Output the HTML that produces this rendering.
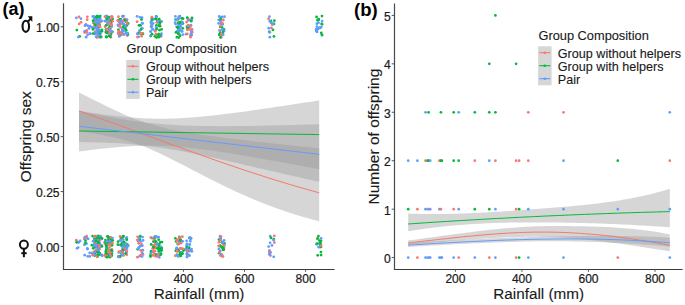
<!DOCTYPE html>
<html><head><meta charset="utf-8"><title>Figure</title>
<style>html,body{margin:0;padding:0;background:#fff;overflow:hidden}svg{display:block}text{font-family:"Liberation Sans",sans-serif}.t{stroke:#1a1a1a;stroke-width:0.22px}.u{stroke:#1a1a1a;stroke-width:0.12px}</style>
</head><body>
<svg width="685" height="305" viewBox="0 0 685 305">
<rect width="685" height="305" fill="#fff"/>
<polygon points="79.00,92.55 83.00,94.52 87.01,96.51 91.01,98.50 95.01,100.50 99.02,102.49 103.02,104.47 107.02,106.43 111.03,108.37 115.03,110.27 119.03,112.12 123.04,113.92 127.04,115.66 131.04,117.32 135.05,118.91 139.05,120.41 143.05,121.82 147.06,123.14 151.06,124.37 155.06,125.52 159.07,126.59 163.07,127.59 167.07,128.52 171.08,129.39 175.08,130.21 179.08,130.98 183.09,131.71 187.09,132.41 191.09,133.08 195.10,133.71 199.10,134.32 203.10,134.92 207.11,135.49 211.11,136.04 215.11,136.59 219.12,137.11 223.12,137.63 227.12,138.14 231.13,138.63 235.13,139.12 239.13,139.60 243.14,140.07 247.14,140.54 251.14,141.00 255.15,141.46 259.15,141.91 263.15,142.35 267.16,142.80 271.16,143.24 275.16,143.67 279.17,144.10 283.17,144.53 287.17,144.96 291.18,145.38 295.18,145.80 299.18,146.22 303.19,146.64 307.19,147.05 311.19,147.46 315.20,147.88 319.20,148.28 319.20,221.32 315.20,220.28 311.19,219.20 307.19,218.08 303.19,216.93 299.18,215.74 295.18,214.50 291.18,213.23 287.17,211.92 283.17,210.57 279.17,209.18 275.16,207.74 271.16,206.27 267.16,204.75 263.15,203.20 259.15,201.60 255.15,199.96 251.14,198.28 247.14,196.56 243.14,194.81 239.13,193.01 235.13,191.18 231.13,189.32 227.12,187.42 223.12,185.49 219.12,183.52 215.11,181.54 211.11,179.52 207.11,177.49 203.10,175.43 199.10,173.36 195.10,171.28 191.09,169.20 187.09,167.12 183.09,165.04 179.08,162.97 175.08,160.92 171.08,158.90 167.07,156.92 163.07,154.98 159.07,153.10 155.06,151.28 151.06,149.53 147.06,147.86 143.05,146.28 139.05,144.79 135.05,143.40 131.04,142.10 127.04,140.88 123.04,139.76 119.03,138.71 115.03,137.73 111.03,136.82 107.02,135.96 103.02,135.16 99.02,134.40 95.01,133.69 91.01,133.00 87.01,132.35 83.00,131.72 79.00,131.12" fill="#999999" fill-opacity="0.4"/><polygon points="79.00,110.89 83.00,111.51 87.01,112.12 91.01,112.72 95.01,113.30 99.02,113.86 103.02,114.40 107.02,114.93 111.03,115.42 115.03,115.90 119.03,116.34 123.04,116.76 127.04,117.14 131.04,117.48 135.05,117.79 139.05,118.06 143.05,118.29 147.06,118.47 151.06,118.61 155.06,118.70 159.07,118.74 163.07,118.74 167.07,118.69 171.08,118.60 175.08,118.46 179.08,118.29 183.09,118.07 187.09,117.82 191.09,117.53 195.10,117.22 199.10,116.87 203.10,116.49 207.11,116.09 211.11,115.67 215.11,115.23 219.12,114.77 223.12,114.29 227.12,113.79 231.13,113.28 235.13,112.76 239.13,112.23 243.14,111.69 247.14,111.14 251.14,110.58 255.15,110.01 259.15,109.44 263.15,108.86 267.16,108.27 271.16,107.68 275.16,107.09 279.17,106.49 283.17,105.90 287.17,105.29 291.18,104.69 295.18,104.08 299.18,103.48 303.19,102.87 307.19,102.26 311.19,101.65 315.20,101.04 319.20,100.43 319.20,169.17 315.20,168.44 311.19,167.70 307.19,166.97 303.19,166.23 299.18,165.50 295.18,164.76 291.18,164.03 287.17,163.30 283.17,162.57 279.17,161.84 275.16,161.12 271.16,160.39 267.16,159.68 263.15,158.96 259.15,158.25 255.15,157.55 251.14,156.86 247.14,156.17 243.14,155.48 239.13,154.81 235.13,154.15 231.13,153.50 227.12,152.86 223.12,152.24 219.12,151.63 215.11,151.04 211.11,150.47 207.11,149.92 203.10,149.39 199.10,148.89 195.10,148.42 191.09,147.98 187.09,147.56 183.09,147.19 179.08,146.85 175.08,146.55 171.08,146.29 167.07,146.08 163.07,145.91 159.07,145.79 155.06,145.72 151.06,145.69 147.06,145.71 143.05,145.78 139.05,145.89 135.05,146.04 131.04,146.24 127.04,146.48 123.04,146.75 119.03,147.05 115.03,147.39 111.03,147.76 107.02,148.15 103.02,148.57 99.02,149.01 95.01,149.48 91.01,149.96 87.01,150.46 83.00,150.97 79.00,151.50" fill="#999999" fill-opacity="0.4"/><polygon points="79.00,110.99 83.00,111.84 87.01,112.67 91.01,113.50 95.01,114.30 99.02,115.10 103.02,115.87 107.02,116.62 111.03,117.36 115.03,118.07 119.03,118.75 123.04,119.40 127.04,120.03 131.04,120.63 135.05,121.19 139.05,121.72 143.05,122.22 147.06,122.68 151.06,123.11 155.06,123.51 159.07,123.87 163.07,124.20 167.07,124.49 171.08,124.76 175.08,125.00 179.08,125.21 183.09,125.39 187.09,125.55 191.09,125.69 195.10,125.80 199.10,125.90 203.10,125.97 207.11,126.03 211.11,126.08 215.11,126.11 219.12,126.13 223.12,126.13 227.12,126.13 231.13,126.11 235.13,126.09 239.13,126.05 243.14,126.01 247.14,125.96 251.14,125.91 255.15,125.84 259.15,125.78 263.15,125.70 267.16,125.62 271.16,125.54 275.16,125.45 279.17,125.36 283.17,125.26 287.17,125.16 291.18,125.06 295.18,124.96 299.18,124.85 303.19,124.74 307.19,124.62 311.19,124.51 315.20,124.39 319.20,124.27 319.20,181.85 315.20,180.96 311.19,180.07 307.19,179.18 303.19,178.28 299.18,177.37 295.18,176.46 291.18,175.55 287.17,174.64 283.17,173.72 279.17,172.80 275.16,171.87 271.16,170.95 267.16,170.02 263.15,169.09 259.15,168.17 255.15,167.24 251.14,166.31 247.14,165.39 243.14,164.46 239.13,163.54 235.13,162.62 231.13,161.71 227.12,160.80 223.12,159.90 219.12,159.01 215.11,158.12 211.11,157.25 207.11,156.38 203.10,155.53 199.10,154.70 195.10,153.88 191.09,153.07 187.09,152.29 183.09,151.52 179.08,150.78 175.08,150.07 171.08,149.38 167.07,148.71 163.07,148.08 159.07,147.48 155.06,146.91 151.06,146.38 147.06,145.88 143.05,145.42 139.05,144.99 135.05,144.59 131.04,144.23 127.04,143.90 123.04,143.60 119.03,143.34 115.03,143.10 111.03,142.89 107.02,142.71 103.02,142.55 99.02,142.42 95.01,142.30 91.01,142.21 87.01,142.13 83.00,142.07 79.00,142.03" fill="#999999" fill-opacity="0.4"/><polyline points="79.00,111.00 83.00,112.39 87.01,113.79 91.01,115.20 95.01,116.62 99.02,118.04 103.02,119.47 107.02,120.91 111.03,122.35 115.03,123.79 119.03,125.25 123.04,126.70 127.04,128.16 131.04,129.62 135.05,131.08 139.05,132.55 143.05,134.02 147.06,135.49 151.06,136.95 155.06,138.42 159.07,139.89 163.07,141.36 167.07,142.82 171.08,144.28 175.08,145.74 179.08,147.20 183.09,148.65 187.09,150.10 191.09,151.55 195.10,152.99 199.10,154.42 203.10,155.85 207.11,157.27 211.11,158.68 215.11,160.09 219.12,161.48 223.12,162.87 227.12,164.25 231.13,165.63 235.13,166.99 239.13,168.34 243.14,169.68 247.14,171.01 251.14,172.33 255.15,173.64 259.15,174.93 263.15,176.22 267.16,177.49 271.16,178.75 275.16,180.00 279.17,181.23 283.17,182.45 287.17,183.66 291.18,184.85 295.18,186.03 299.18,187.19 303.19,188.34 307.19,189.48 311.19,190.60 315.20,191.71 319.20,192.80" fill="none" stroke="#F8766D" stroke-width="1.0"/><polyline points="79.00,131.00 83.00,131.06 87.01,131.12 91.01,131.18 95.01,131.24 99.02,131.30 103.02,131.36 107.02,131.42 111.03,131.48 115.03,131.54 119.03,131.60 123.04,131.66 127.04,131.72 131.04,131.78 135.05,131.84 139.05,131.90 143.05,131.96 147.06,132.02 151.06,132.08 155.06,132.14 159.07,132.20 163.07,132.26 167.07,132.32 171.08,132.38 175.08,132.44 179.08,132.50 183.09,132.56 187.09,132.62 191.09,132.68 195.10,132.74 199.10,132.80 203.10,132.86 207.11,132.92 211.11,132.98 215.11,133.04 219.12,133.10 223.12,133.16 227.12,133.22 231.13,133.28 235.13,133.34 239.13,133.40 243.14,133.46 247.14,133.52 251.14,133.58 255.15,133.64 259.15,133.70 263.15,133.76 267.16,133.82 271.16,133.88 275.16,133.94 279.17,134.00 283.17,134.06 287.17,134.12 291.18,134.18 295.18,134.24 299.18,134.30 303.19,134.36 307.19,134.42 311.19,134.48 315.20,134.54 319.20,134.60" fill="none" stroke="#00BA38" stroke-width="1.0"/><polyline points="79.00,126.30 83.00,126.77 87.01,127.23 91.01,127.70 95.01,128.17 99.02,128.63 103.02,129.10 107.02,129.57 111.03,130.04 115.03,130.50 119.03,130.97 123.04,131.44 127.04,131.91 131.04,132.38 135.05,132.85 139.05,133.32 143.05,133.79 147.06,134.26 151.06,134.72 155.06,135.19 159.07,135.66 163.07,136.13 167.07,136.60 171.08,137.07 175.08,137.54 179.08,138.01 183.09,138.48 187.09,138.95 191.09,139.42 195.10,139.89 199.10,140.36 203.10,140.83 207.11,141.30 211.11,141.77 215.11,142.24 219.12,142.70 223.12,143.17 227.12,143.64 231.13,144.11 235.13,144.58 239.13,145.04 243.14,145.51 247.14,145.98 251.14,146.44 255.15,146.91 259.15,147.37 263.15,147.84 267.16,148.30 271.16,148.77 275.16,149.23 279.17,149.69 283.17,150.16 287.17,150.62 291.18,151.08 295.18,151.54 299.18,152.00 303.19,152.46 307.19,152.92 311.19,153.38 315.20,153.84 319.20,154.30" fill="none" stroke="#619CFF" stroke-width="1.0"/>
<circle cx="123.24" cy="236.04" r="1.38" fill="#00BA38"/><circle cx="106.84" cy="246.55" r="1.38" fill="#619CFF"/><circle cx="159.14" cy="25.37" r="1.38" fill="#00BA38"/><circle cx="110.32" cy="242.35" r="1.38" fill="#00BA38"/><circle cx="122.62" cy="242.19" r="1.38" fill="#619CFF"/><circle cx="190.96" cy="25.19" r="1.38" fill="#619CFF"/><circle cx="97.52" cy="26.86" r="1.38" fill="#00BA38"/><circle cx="111.69" cy="238.64" r="1.38" fill="#00BA38"/><circle cx="95.73" cy="247.07" r="1.38" fill="#619CFF"/><circle cx="78.52" cy="242.49" r="1.38" fill="#619CFF"/><circle cx="182.29" cy="253.60" r="1.38" fill="#00BA38"/><circle cx="142.31" cy="28.35" r="1.38" fill="#619CFF"/><circle cx="96.37" cy="250.05" r="1.38" fill="#619CFF"/><circle cx="180.47" cy="255.91" r="1.38" fill="#00BA38"/><circle cx="140.51" cy="241.35" r="1.38" fill="#619CFF"/><circle cx="107.29" cy="248.45" r="1.38" fill="#00BA38"/><circle cx="180.87" cy="255.75" r="1.38" fill="#00BA38"/><circle cx="106.45" cy="256.29" r="1.38" fill="#F8766D"/><circle cx="110.73" cy="37.26" r="1.38" fill="#F8766D"/><circle cx="111.94" cy="249.30" r="1.38" fill="#F8766D"/><circle cx="320.98" cy="246.96" r="1.38" fill="#00BA38"/><circle cx="319.34" cy="247.02" r="1.38" fill="#619CFF"/><circle cx="140.75" cy="250.34" r="1.38" fill="#F8766D"/><circle cx="105.45" cy="240.11" r="1.38" fill="#00BA38"/><circle cx="125.17" cy="247.05" r="1.38" fill="#00BA38"/><circle cx="176.50" cy="248.84" r="1.38" fill="#00BA38"/><circle cx="127.07" cy="19.63" r="1.38" fill="#619CFF"/><circle cx="179.78" cy="240.96" r="1.38" fill="#00BA38"/><circle cx="139.37" cy="30.79" r="1.38" fill="#619CFF"/><circle cx="178.87" cy="34.38" r="1.38" fill="#F8766D"/><circle cx="108.20" cy="249.78" r="1.38" fill="#F8766D"/><circle cx="220.88" cy="23.64" r="1.38" fill="#619CFF"/><circle cx="188.18" cy="26.12" r="1.38" fill="#F8766D"/><circle cx="112.54" cy="19.07" r="1.38" fill="#00BA38"/><circle cx="93.88" cy="27.97" r="1.38" fill="#619CFF"/><circle cx="138.25" cy="239.85" r="1.38" fill="#619CFF"/><circle cx="175.42" cy="238.36" r="1.38" fill="#00BA38"/><circle cx="89.00" cy="28.38" r="1.38" fill="#619CFF"/><circle cx="123.17" cy="33.96" r="1.38" fill="#619CFF"/><circle cx="96.94" cy="236.76" r="1.38" fill="#619CFF"/><circle cx="119.24" cy="244.85" r="1.38" fill="#619CFF"/><circle cx="176.93" cy="37.13" r="1.38" fill="#00BA38"/><circle cx="156.44" cy="25.35" r="1.38" fill="#00BA38"/><circle cx="94.74" cy="17.86" r="1.38" fill="#00BA38"/><circle cx="124.40" cy="19.30" r="1.38" fill="#619CFF"/><circle cx="155.33" cy="236.35" r="1.38" fill="#00BA38"/><circle cx="107.10" cy="19.23" r="1.38" fill="#F8766D"/><circle cx="94.66" cy="255.55" r="1.38" fill="#00BA38"/><circle cx="154.03" cy="248.15" r="1.38" fill="#F8766D"/><circle cx="156.97" cy="237.14" r="1.38" fill="#619CFF"/><circle cx="126.70" cy="237.52" r="1.38" fill="#619CFF"/><circle cx="220.10" cy="236.20" r="1.38" fill="#F8766D"/><circle cx="95.57" cy="31.64" r="1.38" fill="#619CFF"/><circle cx="268.58" cy="18.90" r="1.38" fill="#F8766D"/><circle cx="176.85" cy="248.72" r="1.38" fill="#619CFF"/><circle cx="159.25" cy="257.26" r="1.38" fill="#619CFF"/><circle cx="122.38" cy="23.49" r="1.38" fill="#00BA38"/><circle cx="159.30" cy="34.14" r="1.38" fill="#F8766D"/><circle cx="106.22" cy="249.45" r="1.38" fill="#00BA38"/><circle cx="187.26" cy="256.44" r="1.38" fill="#619CFF"/><circle cx="86.50" cy="243.57" r="1.38" fill="#619CFF"/><circle cx="105.21" cy="244.24" r="1.38" fill="#F8766D"/><circle cx="98.50" cy="20.83" r="1.38" fill="#619CFF"/><circle cx="190.47" cy="35.55" r="1.38" fill="#619CFF"/><circle cx="87.50" cy="249.04" r="1.38" fill="#619CFF"/><circle cx="188.30" cy="254.82" r="1.38" fill="#00BA38"/><circle cx="125.14" cy="28.14" r="1.38" fill="#619CFF"/><circle cx="155.67" cy="256.31" r="1.38" fill="#F8766D"/><circle cx="122.36" cy="34.16" r="1.38" fill="#619CFF"/><circle cx="159.82" cy="23.87" r="1.38" fill="#00BA38"/><circle cx="120.09" cy="240.28" r="1.38" fill="#619CFF"/><circle cx="218.89" cy="248.96" r="1.38" fill="#619CFF"/><circle cx="156.95" cy="242.98" r="1.38" fill="#619CFF"/><circle cx="98.44" cy="31.85" r="1.38" fill="#619CFF"/><circle cx="104.67" cy="242.77" r="1.38" fill="#F8766D"/><circle cx="178.89" cy="18.49" r="1.38" fill="#619CFF"/><circle cx="160.98" cy="36.25" r="1.38" fill="#F8766D"/><circle cx="180.03" cy="238.46" r="1.38" fill="#F8766D"/><circle cx="120.88" cy="19.48" r="1.38" fill="#00BA38"/><circle cx="124.23" cy="242.16" r="1.38" fill="#00BA38"/><circle cx="109.28" cy="29.54" r="1.38" fill="#00BA38"/><circle cx="321.68" cy="23.55" r="1.38" fill="#619CFF"/><circle cx="97.07" cy="239.79" r="1.38" fill="#619CFF"/><circle cx="95.07" cy="251.61" r="1.38" fill="#619CFF"/><circle cx="100.29" cy="236.08" r="1.38" fill="#619CFF"/><circle cx="316.23" cy="30.86" r="1.38" fill="#00BA38"/><circle cx="126.50" cy="248.58" r="1.38" fill="#619CFF"/><circle cx="189.86" cy="237.85" r="1.38" fill="#F8766D"/><circle cx="161.95" cy="242.08" r="1.38" fill="#00BA38"/><circle cx="177.72" cy="244.03" r="1.38" fill="#00BA38"/><circle cx="122.14" cy="245.09" r="1.38" fill="#619CFF"/><circle cx="89.72" cy="256.39" r="1.38" fill="#619CFF"/><circle cx="321.99" cy="16.02" r="1.38" fill="#00BA38"/><circle cx="221.97" cy="27.41" r="1.38" fill="#00BA38"/><circle cx="94.97" cy="242.44" r="1.38" fill="#F8766D"/><circle cx="95.38" cy="238.50" r="1.38" fill="#619CFF"/><circle cx="81.10" cy="22.26" r="1.38" fill="#F8766D"/><circle cx="118.40" cy="29.75" r="1.38" fill="#00BA38"/><circle cx="190.82" cy="250.40" r="1.38" fill="#619CFF"/><circle cx="187.71" cy="18.99" r="1.38" fill="#F8766D"/><circle cx="156.30" cy="16.35" r="1.38" fill="#00BA38"/><circle cx="96.88" cy="26.36" r="1.38" fill="#619CFF"/><circle cx="93.89" cy="21.72" r="1.38" fill="#F8766D"/><circle cx="222.63" cy="24.48" r="1.38" fill="#619CFF"/><circle cx="220.60" cy="255.60" r="1.38" fill="#619CFF"/><circle cx="124.57" cy="25.05" r="1.38" fill="#619CFF"/><circle cx="176.76" cy="27.05" r="1.38" fill="#00BA38"/><circle cx="109.52" cy="253.86" r="1.38" fill="#00BA38"/><circle cx="96.72" cy="21.74" r="1.38" fill="#619CFF"/><circle cx="94.35" cy="238.53" r="1.38" fill="#00BA38"/><circle cx="96.19" cy="241.74" r="1.38" fill="#F8766D"/><circle cx="137.75" cy="249.37" r="1.38" fill="#00BA38"/><circle cx="107.29" cy="254.44" r="1.38" fill="#619CFF"/><circle cx="175.62" cy="24.09" r="1.38" fill="#619CFF"/><circle cx="126.43" cy="238.33" r="1.38" fill="#F8766D"/><circle cx="178.47" cy="24.88" r="1.38" fill="#619CFF"/><circle cx="156.38" cy="37.56" r="1.38" fill="#00BA38"/><circle cx="105.18" cy="26.77" r="1.38" fill="#F8766D"/><circle cx="151.52" cy="237.92" r="1.38" fill="#00BA38"/><circle cx="223.05" cy="249.72" r="1.38" fill="#00BA38"/><circle cx="223.80" cy="29.19" r="1.38" fill="#00BA38"/><circle cx="99.24" cy="25.57" r="1.38" fill="#619CFF"/><circle cx="138.63" cy="36.83" r="1.38" fill="#619CFF"/><circle cx="139.53" cy="246.87" r="1.38" fill="#619CFF"/><circle cx="100.53" cy="33.54" r="1.38" fill="#619CFF"/><circle cx="94.83" cy="243.20" r="1.38" fill="#00BA38"/><circle cx="93.87" cy="23.16" r="1.38" fill="#00BA38"/><circle cx="183.38" cy="250.64" r="1.38" fill="#00BA38"/><circle cx="219.51" cy="34.25" r="1.38" fill="#619CFF"/><circle cx="151.98" cy="20.36" r="1.38" fill="#00BA38"/><circle cx="177.13" cy="240.99" r="1.38" fill="#619CFF"/><circle cx="91.95" cy="245.21" r="1.38" fill="#00BA38"/><circle cx="97.57" cy="35.87" r="1.38" fill="#619CFF"/><circle cx="92.62" cy="236.01" r="1.38" fill="#00BA38"/><circle cx="107.29" cy="21.06" r="1.38" fill="#619CFF"/><circle cx="106.53" cy="245.25" r="1.38" fill="#00BA38"/><circle cx="122.08" cy="254.71" r="1.38" fill="#F8766D"/><circle cx="316.89" cy="26.53" r="1.38" fill="#619CFF"/><circle cx="95.62" cy="25.63" r="1.38" fill="#00BA38"/><circle cx="78.18" cy="247.53" r="1.38" fill="#619CFF"/><circle cx="156.55" cy="255.58" r="1.38" fill="#619CFF"/><circle cx="156.34" cy="27.18" r="1.38" fill="#619CFF"/><circle cx="190.88" cy="34.13" r="1.38" fill="#F8766D"/><circle cx="273.71" cy="256.86" r="1.38" fill="#619CFF"/><circle cx="107.53" cy="240.72" r="1.38" fill="#F8766D"/><circle cx="192.19" cy="32.21" r="1.38" fill="#F8766D"/><circle cx="84.44" cy="244.75" r="1.38" fill="#619CFF"/><circle cx="158.17" cy="248.55" r="1.38" fill="#00BA38"/><circle cx="110.55" cy="237.91" r="1.38" fill="#00BA38"/><circle cx="107.30" cy="241.31" r="1.38" fill="#619CFF"/><circle cx="123.46" cy="255.60" r="1.38" fill="#F8766D"/><circle cx="316.84" cy="23.64" r="1.38" fill="#619CFF"/><circle cx="158.30" cy="245.47" r="1.38" fill="#619CFF"/><circle cx="186.68" cy="245.19" r="1.38" fill="#619CFF"/><circle cx="150.76" cy="253.21" r="1.38" fill="#619CFF"/><circle cx="110.70" cy="20.80" r="1.38" fill="#F8766D"/><circle cx="86.29" cy="31.02" r="1.38" fill="#619CFF"/><circle cx="98.19" cy="27.43" r="1.38" fill="#00BA38"/><circle cx="317.69" cy="29.20" r="1.38" fill="#619CFF"/><circle cx="156.03" cy="34.72" r="1.38" fill="#00BA38"/><circle cx="93.28" cy="248.37" r="1.38" fill="#00BA38"/><circle cx="109.93" cy="25.65" r="1.38" fill="#00BA38"/><circle cx="99.99" cy="31.09" r="1.38" fill="#00BA38"/><circle cx="218.64" cy="23.40" r="1.38" fill="#619CFF"/><circle cx="220.53" cy="20.67" r="1.38" fill="#F8766D"/><circle cx="150.51" cy="31.49" r="1.38" fill="#619CFF"/><circle cx="181.76" cy="31.10" r="1.38" fill="#00BA38"/><circle cx="126.25" cy="252.81" r="1.38" fill="#619CFF"/><circle cx="175.81" cy="250.96" r="1.38" fill="#00BA38"/><circle cx="137.36" cy="34.00" r="1.38" fill="#619CFF"/><circle cx="109.09" cy="35.41" r="1.38" fill="#F8766D"/><circle cx="95.20" cy="17.58" r="1.38" fill="#F8766D"/><circle cx="99.20" cy="20.43" r="1.38" fill="#619CFF"/><circle cx="98.20" cy="25.08" r="1.38" fill="#F8766D"/><circle cx="96.83" cy="19.33" r="1.38" fill="#00BA38"/><circle cx="154.96" cy="36.29" r="1.38" fill="#00BA38"/><circle cx="109.00" cy="29.95" r="1.38" fill="#00BA38"/><circle cx="188.03" cy="28.55" r="1.38" fill="#F8766D"/><circle cx="271.02" cy="21.00" r="1.38" fill="#00BA38"/><circle cx="161.08" cy="253.80" r="1.38" fill="#00BA38"/><circle cx="178.64" cy="23.63" r="1.38" fill="#619CFF"/><circle cx="320.49" cy="246.98" r="1.38" fill="#00BA38"/><circle cx="223.44" cy="244.84" r="1.38" fill="#F8766D"/><circle cx="127.91" cy="23.14" r="1.38" fill="#619CFF"/><circle cx="273.76" cy="239.19" r="1.38" fill="#00BA38"/><circle cx="151.02" cy="22.25" r="1.38" fill="#619CFF"/><circle cx="153.86" cy="238.68" r="1.38" fill="#F8766D"/><circle cx="126.15" cy="30.24" r="1.38" fill="#00BA38"/><circle cx="155.62" cy="242.63" r="1.38" fill="#619CFF"/><circle cx="187.24" cy="17.55" r="1.38" fill="#00BA38"/><circle cx="222.09" cy="16.94" r="1.38" fill="#619CFF"/><circle cx="126.27" cy="252.74" r="1.38" fill="#619CFF"/><circle cx="118.50" cy="25.98" r="1.38" fill="#619CFF"/><circle cx="318.62" cy="19.09" r="1.38" fill="#00BA38"/><circle cx="160.36" cy="242.03" r="1.38" fill="#00BA38"/><circle cx="123.18" cy="21.05" r="1.38" fill="#F8766D"/><circle cx="98.62" cy="31.47" r="1.38" fill="#619CFF"/><circle cx="121.53" cy="22.21" r="1.38" fill="#619CFF"/><circle cx="125.97" cy="32.88" r="1.38" fill="#619CFF"/><circle cx="191.22" cy="32.03" r="1.38" fill="#619CFF"/><circle cx="111.57" cy="16.27" r="1.38" fill="#F8766D"/><circle cx="153.75" cy="19.13" r="1.38" fill="#619CFF"/><circle cx="96.84" cy="20.53" r="1.38" fill="#00BA38"/><circle cx="274.05" cy="23.90" r="1.38" fill="#00BA38"/><circle cx="126.90" cy="237.89" r="1.38" fill="#619CFF"/><circle cx="154.65" cy="237.92" r="1.38" fill="#00BA38"/><circle cx="153.55" cy="245.33" r="1.38" fill="#F8766D"/><circle cx="121.54" cy="245.71" r="1.38" fill="#00BA38"/><circle cx="96.48" cy="237.00" r="1.38" fill="#F8766D"/><circle cx="123.59" cy="245.10" r="1.38" fill="#619CFF"/><circle cx="178.77" cy="37.52" r="1.38" fill="#00BA38"/><circle cx="224.51" cy="16.74" r="1.38" fill="#619CFF"/><circle cx="154.73" cy="236.68" r="1.38" fill="#619CFF"/><circle cx="175.29" cy="255.81" r="1.38" fill="#F8766D"/><circle cx="96.93" cy="37.45" r="1.38" fill="#F8766D"/><circle cx="142.02" cy="256.51" r="1.38" fill="#619CFF"/><circle cx="177.66" cy="249.10" r="1.38" fill="#619CFF"/><circle cx="143.06" cy="240.49" r="1.38" fill="#619CFF"/><circle cx="178.34" cy="256.14" r="1.38" fill="#00BA38"/><circle cx="186.75" cy="249.97" r="1.38" fill="#619CFF"/><circle cx="120.86" cy="237.88" r="1.38" fill="#619CFF"/><circle cx="104.64" cy="255.18" r="1.38" fill="#F8766D"/><circle cx="156.23" cy="29.86" r="1.38" fill="#619CFF"/><circle cx="98.69" cy="21.56" r="1.38" fill="#619CFF"/><circle cx="109.01" cy="19.15" r="1.38" fill="#00BA38"/><circle cx="317.67" cy="237.92" r="1.38" fill="#F8766D"/><circle cx="224.48" cy="243.41" r="1.38" fill="#00BA38"/><circle cx="159.44" cy="30.05" r="1.38" fill="#00BA38"/><circle cx="96.79" cy="249.87" r="1.38" fill="#619CFF"/><circle cx="320.33" cy="245.41" r="1.38" fill="#619CFF"/><circle cx="187.37" cy="250.36" r="1.38" fill="#F8766D"/><circle cx="270.45" cy="255.54" r="1.38" fill="#F8766D"/><circle cx="178.56" cy="31.48" r="1.38" fill="#00BA38"/><circle cx="141.82" cy="28.24" r="1.38" fill="#619CFF"/><circle cx="122.49" cy="250.68" r="1.38" fill="#00BA38"/><circle cx="186.60" cy="250.31" r="1.38" fill="#619CFF"/><circle cx="122.44" cy="251.10" r="1.38" fill="#00BA38"/><circle cx="151.16" cy="251.14" r="1.38" fill="#00BA38"/><circle cx="85.90" cy="24.44" r="1.38" fill="#F8766D"/><circle cx="100.27" cy="16.04" r="1.38" fill="#00BA38"/><circle cx="111.80" cy="253.40" r="1.38" fill="#00BA38"/><circle cx="186.25" cy="34.16" r="1.38" fill="#619CFF"/><circle cx="94.93" cy="22.88" r="1.38" fill="#00BA38"/><circle cx="188.27" cy="25.48" r="1.38" fill="#00BA38"/><circle cx="159.35" cy="244.01" r="1.38" fill="#00BA38"/><circle cx="179.27" cy="238.10" r="1.38" fill="#F8766D"/><circle cx="155.42" cy="243.63" r="1.38" fill="#F8766D"/><circle cx="316.69" cy="244.24" r="1.38" fill="#00BA38"/><circle cx="112.52" cy="31.84" r="1.38" fill="#00BA38"/><circle cx="156.00" cy="34.19" r="1.38" fill="#F8766D"/><circle cx="109.46" cy="254.76" r="1.38" fill="#00BA38"/><circle cx="120.05" cy="256.95" r="1.38" fill="#F8766D"/><circle cx="109.33" cy="21.13" r="1.38" fill="#00BA38"/><circle cx="140.24" cy="245.99" r="1.38" fill="#619CFF"/><circle cx="97.29" cy="32.90" r="1.38" fill="#619CFF"/><circle cx="160.74" cy="254.05" r="1.38" fill="#00BA38"/><circle cx="224.11" cy="247.89" r="1.38" fill="#F8766D"/><circle cx="111.78" cy="19.77" r="1.38" fill="#00BA38"/><circle cx="224.42" cy="245.49" r="1.38" fill="#619CFF"/><circle cx="191.57" cy="249.12" r="1.38" fill="#619CFF"/><circle cx="108.73" cy="19.88" r="1.38" fill="#619CFF"/><circle cx="269.32" cy="251.60" r="1.38" fill="#619CFF"/><circle cx="97.76" cy="36.63" r="1.38" fill="#619CFF"/><circle cx="97.01" cy="23.04" r="1.38" fill="#619CFF"/><circle cx="125.65" cy="21.71" r="1.38" fill="#619CFF"/><circle cx="160.73" cy="251.00" r="1.38" fill="#00BA38"/><circle cx="111.59" cy="24.68" r="1.38" fill="#619CFF"/><circle cx="178.32" cy="250.71" r="1.38" fill="#619CFF"/><circle cx="180.35" cy="25.09" r="1.38" fill="#619CFF"/><circle cx="120.99" cy="251.19" r="1.38" fill="#619CFF"/><circle cx="101.87" cy="238.86" r="1.38" fill="#619CFF"/><circle cx="108.28" cy="18.66" r="1.38" fill="#00BA38"/><circle cx="152.72" cy="251.93" r="1.38" fill="#619CFF"/><circle cx="90.08" cy="26.24" r="1.38" fill="#619CFF"/><circle cx="95.12" cy="241.44" r="1.38" fill="#00BA38"/><circle cx="269.76" cy="21.44" r="1.38" fill="#619CFF"/><circle cx="98.25" cy="249.30" r="1.38" fill="#F8766D"/><circle cx="96.55" cy="255.57" r="1.38" fill="#F8766D"/><circle cx="96.30" cy="26.76" r="1.38" fill="#00BA38"/><circle cx="220.25" cy="33.18" r="1.38" fill="#00BA38"/><circle cx="96.95" cy="33.41" r="1.38" fill="#619CFF"/><circle cx="112.04" cy="245.14" r="1.38" fill="#00BA38"/><circle cx="97.45" cy="256.74" r="1.38" fill="#00BA38"/><circle cx="97.01" cy="251.66" r="1.38" fill="#00BA38"/><circle cx="118.29" cy="33.71" r="1.38" fill="#619CFF"/><circle cx="124.09" cy="27.84" r="1.38" fill="#00BA38"/><circle cx="320.25" cy="243.63" r="1.38" fill="#F8766D"/><circle cx="95.10" cy="32.00" r="1.38" fill="#F8766D"/><circle cx="95.03" cy="32.83" r="1.38" fill="#619CFF"/><circle cx="158.66" cy="251.58" r="1.38" fill="#00BA38"/><circle cx="142.01" cy="17.72" r="1.38" fill="#619CFF"/><circle cx="98.78" cy="252.27" r="1.38" fill="#00BA38"/><circle cx="178.04" cy="19.50" r="1.38" fill="#F8766D"/><circle cx="120.20" cy="256.18" r="1.38" fill="#00BA38"/><circle cx="179.67" cy="29.79" r="1.38" fill="#F8766D"/><circle cx="96.14" cy="36.86" r="1.38" fill="#619CFF"/><circle cx="180.81" cy="26.51" r="1.38" fill="#619CFF"/><circle cx="108.91" cy="251.89" r="1.38" fill="#F8766D"/><circle cx="269.51" cy="254.36" r="1.38" fill="#619CFF"/><circle cx="154.11" cy="250.99" r="1.38" fill="#F8766D"/><circle cx="180.11" cy="30.20" r="1.38" fill="#619CFF"/><circle cx="84.77" cy="32.59" r="1.38" fill="#F8766D"/><circle cx="151.18" cy="26.40" r="1.38" fill="#00BA38"/><circle cx="93.79" cy="246.90" r="1.38" fill="#00BA38"/><circle cx="109.04" cy="33.77" r="1.38" fill="#619CFF"/><circle cx="123.61" cy="16.09" r="1.38" fill="#619CFF"/><circle cx="220.10" cy="245.71" r="1.38" fill="#00BA38"/><circle cx="137.61" cy="236.80" r="1.38" fill="#F8766D"/><circle cx="179.33" cy="25.39" r="1.38" fill="#619CFF"/><circle cx="99.48" cy="24.60" r="1.38" fill="#00BA38"/><circle cx="269.48" cy="31.94" r="1.38" fill="#00BA38"/><circle cx="100.15" cy="26.99" r="1.38" fill="#F8766D"/><circle cx="110.53" cy="21.72" r="1.38" fill="#619CFF"/><circle cx="90.37" cy="33.75" r="1.38" fill="#619CFF"/><circle cx="160.68" cy="36.24" r="1.38" fill="#619CFF"/><circle cx="220.56" cy="246.38" r="1.38" fill="#00BA38"/><circle cx="97.26" cy="244.79" r="1.38" fill="#00BA38"/><circle cx="153.87" cy="251.83" r="1.38" fill="#F8766D"/><circle cx="97.71" cy="16.11" r="1.38" fill="#00BA38"/><circle cx="218.95" cy="242.21" r="1.38" fill="#F8766D"/><circle cx="112.52" cy="21.26" r="1.38" fill="#F8766D"/><circle cx="126.26" cy="21.40" r="1.38" fill="#619CFF"/><circle cx="320.23" cy="242.66" r="1.38" fill="#00BA38"/><circle cx="118.35" cy="256.49" r="1.38" fill="#619CFF"/><circle cx="186.60" cy="22.07" r="1.38" fill="#F8766D"/><circle cx="139.80" cy="239.15" r="1.38" fill="#00BA38"/><circle cx="78.67" cy="242.17" r="1.38" fill="#619CFF"/><circle cx="106.84" cy="31.94" r="1.38" fill="#00BA38"/><circle cx="182.78" cy="249.27" r="1.38" fill="#619CFF"/><circle cx="320.04" cy="27.86" r="1.38" fill="#00BA38"/><circle cx="121.71" cy="32.03" r="1.38" fill="#619CFF"/><circle cx="140.56" cy="25.48" r="1.38" fill="#00BA38"/><circle cx="186.97" cy="243.76" r="1.38" fill="#619CFF"/><circle cx="179.46" cy="16.64" r="1.38" fill="#F8766D"/><circle cx="186.85" cy="253.63" r="1.38" fill="#619CFF"/><circle cx="160.88" cy="35.10" r="1.38" fill="#00BA38"/><circle cx="84.78" cy="31.15" r="1.38" fill="#619CFF"/><circle cx="106.26" cy="16.08" r="1.38" fill="#00BA38"/><circle cx="109.38" cy="247.54" r="1.38" fill="#F8766D"/><circle cx="319.42" cy="240.52" r="1.38" fill="#00BA38"/><circle cx="120.76" cy="34.39" r="1.38" fill="#619CFF"/><circle cx="179.06" cy="255.45" r="1.38" fill="#619CFF"/><circle cx="123.07" cy="16.54" r="1.38" fill="#F8766D"/><circle cx="76.37" cy="17.96" r="1.38" fill="#619CFF"/><circle cx="122.85" cy="254.48" r="1.38" fill="#619CFF"/><circle cx="321.04" cy="240.85" r="1.38" fill="#00BA38"/><circle cx="122.65" cy="247.96" r="1.38" fill="#619CFF"/><circle cx="86.92" cy="32.35" r="1.38" fill="#F8766D"/><circle cx="268.77" cy="28.19" r="1.38" fill="#619CFF"/><circle cx="117.93" cy="24.92" r="1.38" fill="#619CFF"/><circle cx="120.51" cy="27.48" r="1.38" fill="#F8766D"/><circle cx="274.26" cy="235.90" r="1.38" fill="#F8766D"/><circle cx="181.18" cy="242.91" r="1.38" fill="#F8766D"/><circle cx="178.05" cy="240.61" r="1.38" fill="#619CFF"/><circle cx="99.54" cy="17.07" r="1.38" fill="#619CFF"/><circle cx="104.85" cy="242.04" r="1.38" fill="#619CFF"/><circle cx="93.51" cy="21.60" r="1.38" fill="#F8766D"/><circle cx="187.32" cy="254.92" r="1.38" fill="#F8766D"/><circle cx="84.90" cy="25.70" r="1.38" fill="#619CFF"/><circle cx="221.78" cy="254.61" r="1.38" fill="#F8766D"/><circle cx="110.88" cy="22.75" r="1.38" fill="#00BA38"/><circle cx="98.76" cy="23.79" r="1.38" fill="#619CFF"/><circle cx="124.91" cy="249.56" r="1.38" fill="#00BA38"/><circle cx="151.44" cy="26.61" r="1.38" fill="#00BA38"/><circle cx="317.80" cy="19.83" r="1.38" fill="#619CFF"/><circle cx="89.71" cy="33.70" r="1.38" fill="#619CFF"/><circle cx="107.76" cy="236.28" r="1.38" fill="#619CFF"/><circle cx="153.40" cy="241.62" r="1.38" fill="#00BA38"/><circle cx="108.86" cy="254.71" r="1.38" fill="#00BA38"/><circle cx="108.63" cy="239.52" r="1.38" fill="#619CFF"/><circle cx="108.50" cy="28.58" r="1.38" fill="#00BA38"/><circle cx="125.70" cy="30.37" r="1.38" fill="#00BA38"/><circle cx="118.88" cy="256.76" r="1.38" fill="#00BA38"/><circle cx="221.97" cy="242.23" r="1.38" fill="#00BA38"/><circle cx="122.47" cy="31.06" r="1.38" fill="#F8766D"/><circle cx="186.33" cy="248.54" r="1.38" fill="#619CFF"/><circle cx="178.23" cy="244.03" r="1.38" fill="#F8766D"/><circle cx="101.93" cy="29.92" r="1.38" fill="#00BA38"/><circle cx="98.73" cy="241.98" r="1.38" fill="#619CFF"/><circle cx="110.33" cy="35.38" r="1.38" fill="#F8766D"/><circle cx="272.29" cy="24.68" r="1.38" fill="#F8766D"/><circle cx="156.89" cy="248.13" r="1.38" fill="#00BA38"/><circle cx="95.42" cy="251.03" r="1.38" fill="#F8766D"/><circle cx="108.33" cy="255.30" r="1.38" fill="#00BA38"/><circle cx="96.12" cy="246.64" r="1.38" fill="#619CFF"/><circle cx="126.66" cy="254.83" r="1.38" fill="#F8766D"/><circle cx="219.42" cy="34.91" r="1.38" fill="#00BA38"/><circle cx="161.57" cy="29.42" r="1.38" fill="#00BA38"/><circle cx="177.14" cy="251.31" r="1.38" fill="#F8766D"/><circle cx="111.36" cy="256.11" r="1.38" fill="#F8766D"/><circle cx="111.96" cy="32.10" r="1.38" fill="#F8766D"/><circle cx="105.99" cy="253.16" r="1.38" fill="#00BA38"/><circle cx="190.88" cy="238.65" r="1.38" fill="#619CFF"/><circle cx="108.14" cy="254.56" r="1.38" fill="#00BA38"/><circle cx="316.42" cy="243.94" r="1.38" fill="#619CFF"/><circle cx="111.35" cy="245.47" r="1.38" fill="#00BA38"/><circle cx="96.35" cy="246.39" r="1.38" fill="#619CFF"/><circle cx="111.72" cy="255.49" r="1.38" fill="#00BA38"/><circle cx="110.28" cy="237.98" r="1.38" fill="#619CFF"/><circle cx="159.36" cy="246.31" r="1.38" fill="#00BA38"/><circle cx="159.01" cy="255.58" r="1.38" fill="#619CFF"/><circle cx="191.19" cy="35.53" r="1.38" fill="#619CFF"/><circle cx="138.65" cy="247.89" r="1.38" fill="#619CFF"/><circle cx="76.85" cy="30.06" r="1.38" fill="#00BA38"/><circle cx="80.91" cy="18.67" r="1.38" fill="#619CFF"/><circle cx="105.79" cy="32.26" r="1.38" fill="#F8766D"/><circle cx="156.78" cy="254.51" r="1.38" fill="#619CFF"/><circle cx="94.85" cy="247.19" r="1.38" fill="#619CFF"/><circle cx="179.23" cy="240.92" r="1.38" fill="#619CFF"/><circle cx="122.55" cy="252.43" r="1.38" fill="#00BA38"/><circle cx="186.80" cy="247.16" r="1.38" fill="#00BA38"/><circle cx="106.18" cy="31.48" r="1.38" fill="#00BA38"/><circle cx="177.17" cy="239.73" r="1.38" fill="#F8766D"/><circle cx="100.77" cy="236.58" r="1.38" fill="#619CFF"/><circle cx="142.57" cy="237.09" r="1.38" fill="#619CFF"/><circle cx="118.48" cy="256.96" r="1.38" fill="#619CFF"/><circle cx="188.18" cy="25.95" r="1.38" fill="#F8766D"/><circle cx="98.14" cy="16.54" r="1.38" fill="#619CFF"/><circle cx="97.96" cy="237.63" r="1.38" fill="#00BA38"/><circle cx="91.86" cy="252.96" r="1.38" fill="#F8766D"/><circle cx="97.46" cy="24.49" r="1.38" fill="#00BA38"/><circle cx="94.44" cy="254.53" r="1.38" fill="#619CFF"/><circle cx="97.46" cy="245.77" r="1.38" fill="#00BA38"/><circle cx="317.05" cy="31.95" r="1.38" fill="#619CFF"/><circle cx="180.77" cy="240.19" r="1.38" fill="#00BA38"/><circle cx="127.84" cy="245.34" r="1.38" fill="#619CFF"/><circle cx="139.67" cy="256.14" r="1.38" fill="#619CFF"/><circle cx="100.71" cy="36.32" r="1.38" fill="#619CFF"/><circle cx="87.89" cy="25.85" r="1.38" fill="#619CFF"/><circle cx="188.02" cy="248.04" r="1.38" fill="#619CFF"/><circle cx="127.69" cy="33.02" r="1.38" fill="#619CFF"/><circle cx="269.78" cy="32.34" r="1.38" fill="#619CFF"/><circle cx="97.57" cy="25.66" r="1.38" fill="#619CFF"/><circle cx="219.43" cy="30.49" r="1.38" fill="#F8766D"/><circle cx="151.27" cy="25.66" r="1.38" fill="#619CFF"/><circle cx="108.33" cy="30.56" r="1.38" fill="#00BA38"/><circle cx="219.04" cy="239.56" r="1.38" fill="#00BA38"/><circle cx="186.89" cy="26.56" r="1.38" fill="#619CFF"/><circle cx="182.21" cy="31.39" r="1.38" fill="#619CFF"/><circle cx="107.53" cy="23.71" r="1.38" fill="#00BA38"/><circle cx="221.46" cy="255.12" r="1.38" fill="#F8766D"/><circle cx="222.63" cy="243.00" r="1.38" fill="#00BA38"/><circle cx="88.10" cy="238.91" r="1.38" fill="#619CFF"/><circle cx="123.32" cy="239.65" r="1.38" fill="#619CFF"/><circle cx="178.20" cy="22.72" r="1.38" fill="#00BA38"/><circle cx="86.14" cy="37.17" r="1.38" fill="#619CFF"/><circle cx="107.29" cy="24.63" r="1.38" fill="#F8766D"/><circle cx="191.85" cy="30.10" r="1.38" fill="#619CFF"/><circle cx="119.17" cy="20.14" r="1.38" fill="#619CFF"/><circle cx="98.21" cy="240.45" r="1.38" fill="#619CFF"/><circle cx="96.07" cy="23.43" r="1.38" fill="#00BA38"/><circle cx="138.35" cy="241.20" r="1.38" fill="#619CFF"/><circle cx="155.05" cy="251.07" r="1.38" fill="#F8766D"/><circle cx="106.09" cy="21.30" r="1.38" fill="#F8766D"/><circle cx="190.20" cy="27.12" r="1.38" fill="#F8766D"/><circle cx="187.35" cy="29.78" r="1.38" fill="#F8766D"/><circle cx="158.63" cy="37.19" r="1.38" fill="#00BA38"/><circle cx="120.90" cy="240.43" r="1.38" fill="#619CFF"/><circle cx="121.93" cy="243.31" r="1.38" fill="#00BA38"/><circle cx="96.52" cy="241.55" r="1.38" fill="#619CFF"/><circle cx="179.60" cy="254.81" r="1.38" fill="#00BA38"/><circle cx="101.56" cy="254.79" r="1.38" fill="#00BA38"/><circle cx="180.27" cy="240.05" r="1.38" fill="#00BA38"/><circle cx="318.53" cy="247.07" r="1.38" fill="#619CFF"/><circle cx="218.77" cy="19.94" r="1.38" fill="#619CFF"/><circle cx="274.36" cy="242.54" r="1.38" fill="#F8766D"/><circle cx="109.11" cy="35.99" r="1.38" fill="#00BA38"/><circle cx="192.01" cy="29.39" r="1.38" fill="#619CFF"/><circle cx="98.18" cy="254.99" r="1.38" fill="#619CFF"/><circle cx="126.58" cy="245.65" r="1.38" fill="#619CFF"/><circle cx="155.42" cy="247.07" r="1.38" fill="#F8766D"/><circle cx="126.66" cy="22.07" r="1.38" fill="#F8766D"/><circle cx="100.27" cy="36.34" r="1.38" fill="#619CFF"/><circle cx="151.70" cy="26.31" r="1.38" fill="#619CFF"/><circle cx="121.85" cy="244.18" r="1.38" fill="#F8766D"/><circle cx="109.53" cy="244.47" r="1.38" fill="#00BA38"/><circle cx="125.13" cy="19.12" r="1.38" fill="#F8766D"/><circle cx="270.20" cy="236.23" r="1.38" fill="#619CFF"/><circle cx="119.66" cy="25.15" r="1.38" fill="#F8766D"/><circle cx="119.70" cy="19.36" r="1.38" fill="#00BA38"/><circle cx="111.35" cy="239.34" r="1.38" fill="#00BA38"/><circle cx="111.96" cy="251.51" r="1.38" fill="#619CFF"/><circle cx="99.39" cy="249.40" r="1.38" fill="#F8766D"/><circle cx="318.56" cy="22.87" r="1.38" fill="#619CFF"/><circle cx="97.49" cy="243.01" r="1.38" fill="#00BA38"/><circle cx="187.24" cy="251.80" r="1.38" fill="#619CFF"/><circle cx="150.55" cy="256.60" r="1.38" fill="#00BA38"/><circle cx="139.50" cy="238.29" r="1.38" fill="#619CFF"/><circle cx="127.29" cy="35.57" r="1.38" fill="#F8766D"/><circle cx="222.92" cy="247.61" r="1.38" fill="#00BA38"/><circle cx="188.45" cy="27.90" r="1.38" fill="#F8766D"/><circle cx="186.92" cy="257.10" r="1.38" fill="#619CFF"/><circle cx="119.28" cy="22.10" r="1.38" fill="#F8766D"/><circle cx="141.49" cy="19.59" r="1.38" fill="#00BA38"/><circle cx="118.41" cy="16.74" r="1.38" fill="#F8766D"/><circle cx="137.18" cy="16.32" r="1.38" fill="#619CFF"/><circle cx="96.20" cy="240.19" r="1.38" fill="#F8766D"/><circle cx="86.73" cy="30.44" r="1.38" fill="#F8766D"/><circle cx="107.47" cy="29.79" r="1.38" fill="#F8766D"/><circle cx="183.62" cy="249.47" r="1.38" fill="#00BA38"/><circle cx="142.59" cy="23.49" r="1.38" fill="#619CFF"/><circle cx="123.60" cy="250.11" r="1.38" fill="#619CFF"/><circle cx="118.08" cy="241.63" r="1.38" fill="#00BA38"/><circle cx="105.72" cy="242.44" r="1.38" fill="#00BA38"/><circle cx="99.01" cy="243.75" r="1.38" fill="#F8766D"/><circle cx="321.22" cy="32.93" r="1.38" fill="#00BA38"/><circle cx="94.42" cy="239.19" r="1.38" fill="#00BA38"/><circle cx="110.19" cy="243.74" r="1.38" fill="#00BA38"/><circle cx="142.85" cy="250.17" r="1.38" fill="#619CFF"/><circle cx="176.88" cy="254.61" r="1.38" fill="#F8766D"/><circle cx="99.06" cy="36.90" r="1.38" fill="#00BA38"/><circle cx="179.30" cy="236.98" r="1.38" fill="#00BA38"/><circle cx="219.03" cy="253.18" r="1.38" fill="#00BA38"/><circle cx="106.24" cy="36.69" r="1.38" fill="#00BA38"/><circle cx="190.54" cy="37.17" r="1.38" fill="#F8766D"/><circle cx="320.95" cy="252.09" r="1.38" fill="#00BA38"/><circle cx="109.29" cy="29.84" r="1.38" fill="#F8766D"/><circle cx="107.07" cy="236.60" r="1.38" fill="#F8766D"/><circle cx="123.19" cy="244.99" r="1.38" fill="#619CFF"/><circle cx="179.62" cy="24.22" r="1.38" fill="#00BA38"/><circle cx="124.88" cy="20.02" r="1.38" fill="#00BA38"/><circle cx="158.14" cy="254.32" r="1.38" fill="#F8766D"/><circle cx="221.57" cy="34.86" r="1.38" fill="#F8766D"/><circle cx="110.17" cy="19.95" r="1.38" fill="#00BA38"/><circle cx="221.04" cy="236.68" r="1.38" fill="#F8766D"/><circle cx="152.48" cy="19.03" r="1.38" fill="#619CFF"/><circle cx="122.53" cy="31.51" r="1.38" fill="#619CFF"/><circle cx="96.20" cy="251.75" r="1.38" fill="#F8766D"/><circle cx="107.69" cy="20.91" r="1.38" fill="#619CFF"/><circle cx="99.41" cy="31.10" r="1.38" fill="#00BA38"/><circle cx="142.49" cy="33.44" r="1.38" fill="#00BA38"/><circle cx="189.64" cy="29.57" r="1.38" fill="#F8766D"/><circle cx="176.91" cy="255.12" r="1.38" fill="#619CFF"/><circle cx="96.38" cy="237.66" r="1.38" fill="#F8766D"/><circle cx="270.11" cy="242.86" r="1.38" fill="#619CFF"/><circle cx="94.21" cy="244.37" r="1.38" fill="#619CFF"/><circle cx="318.74" cy="19.87" r="1.38" fill="#00BA38"/><circle cx="182.93" cy="248.82" r="1.38" fill="#F8766D"/><circle cx="84.74" cy="255.13" r="1.38" fill="#619CFF"/><circle cx="154.83" cy="244.52" r="1.38" fill="#F8766D"/><circle cx="78.99" cy="16.81" r="1.38" fill="#F8766D"/><circle cx="94.70" cy="239.56" r="1.38" fill="#619CFF"/><circle cx="155.48" cy="254.37" r="1.38" fill="#00BA38"/><circle cx="179.54" cy="243.49" r="1.38" fill="#F8766D"/><circle cx="153.14" cy="23.34" r="1.38" fill="#619CFF"/><circle cx="150.65" cy="36.04" r="1.38" fill="#00BA38"/><circle cx="220.60" cy="238.65" r="1.38" fill="#619CFF"/><circle cx="157.75" cy="21.26" r="1.38" fill="#00BA38"/><circle cx="98.84" cy="240.67" r="1.38" fill="#619CFF"/><circle cx="100.04" cy="240.00" r="1.38" fill="#F8766D"/><circle cx="186.91" cy="254.32" r="1.38" fill="#619CFF"/><circle cx="95.51" cy="27.31" r="1.38" fill="#619CFF"/><circle cx="97.42" cy="243.40" r="1.38" fill="#619CFF"/><circle cx="157.37" cy="256.42" r="1.38" fill="#F8766D"/><circle cx="157.47" cy="20.79" r="1.38" fill="#00BA38"/><circle cx="272.97" cy="29.88" r="1.38" fill="#00BA38"/><circle cx="121.51" cy="23.68" r="1.38" fill="#619CFF"/><circle cx="106.12" cy="29.37" r="1.38" fill="#00BA38"/><circle cx="76.31" cy="240.15" r="1.38" fill="#F8766D"/><circle cx="96.88" cy="17.04" r="1.38" fill="#00BA38"/><circle cx="153.39" cy="246.52" r="1.38" fill="#F8766D"/><circle cx="138.05" cy="248.60" r="1.38" fill="#619CFF"/><circle cx="109.44" cy="243.48" r="1.38" fill="#619CFF"/><circle cx="153.93" cy="240.07" r="1.38" fill="#619CFF"/><circle cx="99.45" cy="21.00" r="1.38" fill="#619CFF"/><circle cx="220.20" cy="26.80" r="1.38" fill="#00BA38"/><circle cx="176.77" cy="247.83" r="1.38" fill="#619CFF"/><circle cx="98.06" cy="30.26" r="1.38" fill="#00BA38"/><circle cx="106.67" cy="247.16" r="1.38" fill="#619CFF"/><circle cx="179.26" cy="237.70" r="1.38" fill="#F8766D"/><circle cx="160.28" cy="25.96" r="1.38" fill="#F8766D"/><circle cx="93.16" cy="20.90" r="1.38" fill="#00BA38"/><circle cx="154.62" cy="239.91" r="1.38" fill="#F8766D"/><circle cx="101.91" cy="238.37" r="1.38" fill="#00BA38"/><circle cx="97.51" cy="244.71" r="1.38" fill="#F8766D"/><circle cx="98.00" cy="18.76" r="1.38" fill="#619CFF"/><circle cx="94.68" cy="251.36" r="1.38" fill="#F8766D"/><circle cx="98.32" cy="241.96" r="1.38" fill="#00BA38"/><circle cx="178.84" cy="16.91" r="1.38" fill="#619CFF"/><circle cx="161.63" cy="21.38" r="1.38" fill="#619CFF"/><circle cx="270.58" cy="252.54" r="1.38" fill="#619CFF"/><circle cx="151.16" cy="244.46" r="1.38" fill="#00BA38"/><circle cx="179.01" cy="243.07" r="1.38" fill="#F8766D"/><circle cx="86.08" cy="24.97" r="1.38" fill="#619CFF"/><circle cx="104.99" cy="16.73" r="1.38" fill="#F8766D"/><circle cx="180.37" cy="248.29" r="1.38" fill="#F8766D"/><circle cx="96.49" cy="28.56" r="1.38" fill="#619CFF"/><circle cx="95.25" cy="21.98" r="1.38" fill="#619CFF"/><circle cx="97.36" cy="33.22" r="1.38" fill="#619CFF"/><circle cx="157.25" cy="244.91" r="1.38" fill="#619CFF"/><circle cx="222.37" cy="23.57" r="1.38" fill="#619CFF"/><circle cx="190.36" cy="19.53" r="1.38" fill="#F8766D"/><circle cx="94.04" cy="19.61" r="1.38" fill="#00BA38"/><circle cx="96.83" cy="17.39" r="1.38" fill="#619CFF"/><circle cx="224.19" cy="30.72" r="1.38" fill="#619CFF"/><circle cx="158.39" cy="36.33" r="1.38" fill="#00BA38"/><circle cx="151.86" cy="19.09" r="1.38" fill="#00BA38"/><circle cx="126.13" cy="252.64" r="1.38" fill="#619CFF"/><circle cx="273.93" cy="36.41" r="1.38" fill="#00BA38"/><circle cx="97.29" cy="255.92" r="1.38" fill="#00BA38"/><circle cx="99.65" cy="243.10" r="1.38" fill="#619CFF"/><circle cx="316.20" cy="29.13" r="1.38" fill="#619CFF"/><circle cx="141.95" cy="252.38" r="1.38" fill="#F8766D"/><circle cx="117.75" cy="20.36" r="1.38" fill="#F8766D"/><circle cx="108.33" cy="240.40" r="1.38" fill="#00BA38"/><circle cx="178.10" cy="18.39" r="1.38" fill="#619CFF"/><circle cx="318.61" cy="28.02" r="1.38" fill="#619CFF"/><circle cx="316.46" cy="30.99" r="1.38" fill="#619CFF"/><circle cx="125.99" cy="249.02" r="1.38" fill="#619CFF"/><circle cx="84.41" cy="238.97" r="1.38" fill="#F8766D"/><circle cx="150.78" cy="31.69" r="1.38" fill="#619CFF"/><circle cx="137.34" cy="240.04" r="1.38" fill="#F8766D"/><circle cx="152.66" cy="248.55" r="1.38" fill="#F8766D"/><circle cx="101.11" cy="245.04" r="1.38" fill="#619CFF"/><circle cx="124.14" cy="26.36" r="1.38" fill="#00BA38"/><circle cx="182.88" cy="23.61" r="1.38" fill="#00BA38"/><circle cx="223.78" cy="245.49" r="1.38" fill="#F8766D"/><circle cx="269.39" cy="16.63" r="1.38" fill="#619CFF"/><circle cx="140.98" cy="29.60" r="1.38" fill="#00BA38"/><circle cx="109.69" cy="30.35" r="1.38" fill="#619CFF"/><circle cx="189.62" cy="244.26" r="1.38" fill="#619CFF"/><circle cx="99.69" cy="247.76" r="1.38" fill="#F8766D"/><circle cx="97.08" cy="255.72" r="1.38" fill="#00BA38"/><circle cx="269.82" cy="252.81" r="1.38" fill="#F8766D"/><circle cx="98.49" cy="36.99" r="1.38" fill="#619CFF"/><circle cx="99.42" cy="34.14" r="1.38" fill="#619CFF"/><circle cx="108.25" cy="23.08" r="1.38" fill="#619CFF"/><circle cx="223.21" cy="242.38" r="1.38" fill="#619CFF"/><circle cx="160.48" cy="252.11" r="1.38" fill="#619CFF"/><circle cx="123.51" cy="30.96" r="1.38" fill="#619CFF"/><circle cx="79.71" cy="36.47" r="1.38" fill="#00BA38"/><circle cx="111.36" cy="241.64" r="1.38" fill="#F8766D"/><circle cx="220.53" cy="237.72" r="1.38" fill="#619CFF"/><circle cx="100.15" cy="36.91" r="1.38" fill="#00BA38"/><circle cx="112.32" cy="16.95" r="1.38" fill="#F8766D"/><circle cx="98.08" cy="235.97" r="1.38" fill="#00BA38"/><circle cx="112.69" cy="240.39" r="1.38" fill="#00BA38"/><circle cx="220.99" cy="17.31" r="1.38" fill="#619CFF"/><circle cx="110.64" cy="26.26" r="1.38" fill="#F8766D"/><circle cx="138.65" cy="243.30" r="1.38" fill="#F8766D"/><circle cx="120.02" cy="35.09" r="1.38" fill="#00BA38"/><circle cx="99.90" cy="30.48" r="1.38" fill="#619CFF"/><circle cx="120.11" cy="35.23" r="1.38" fill="#00BA38"/><circle cx="98.46" cy="35.38" r="1.38" fill="#619CFF"/><circle cx="155.15" cy="31.33" r="1.38" fill="#F8766D"/><circle cx="124.14" cy="244.81" r="1.38" fill="#00BA38"/><circle cx="86.81" cy="237.94" r="1.38" fill="#619CFF"/><circle cx="87.32" cy="248.43" r="1.38" fill="#619CFF"/><circle cx="190.44" cy="25.68" r="1.38" fill="#F8766D"/><circle cx="128.11" cy="23.63" r="1.38" fill="#00BA38"/><circle cx="269.06" cy="31.84" r="1.38" fill="#619CFF"/><circle cx="152.03" cy="24.89" r="1.38" fill="#619CFF"/><circle cx="98.53" cy="237.37" r="1.38" fill="#619CFF"/><circle cx="97.89" cy="244.89" r="1.38" fill="#F8766D"/><circle cx="141.61" cy="36.13" r="1.38" fill="#F8766D"/><circle cx="181.78" cy="23.59" r="1.38" fill="#619CFF"/><circle cx="178.62" cy="250.97" r="1.38" fill="#00BA38"/><circle cx="141.32" cy="243.54" r="1.38" fill="#F8766D"/><circle cx="96.18" cy="239.37" r="1.38" fill="#619CFF"/><circle cx="189.67" cy="238.14" r="1.38" fill="#00BA38"/><circle cx="99.23" cy="253.39" r="1.38" fill="#00BA38"/><circle cx="100.26" cy="18.59" r="1.38" fill="#619CFF"/><circle cx="110.55" cy="26.95" r="1.38" fill="#F8766D"/><circle cx="274.38" cy="20.68" r="1.38" fill="#00BA38"/><circle cx="97.33" cy="243.57" r="1.38" fill="#619CFF"/><circle cx="126.78" cy="25.47" r="1.38" fill="#00BA38"/><circle cx="121.58" cy="253.61" r="1.38" fill="#00BA38"/><circle cx="107.03" cy="16.06" r="1.38" fill="#619CFF"/><circle cx="178.39" cy="28.40" r="1.38" fill="#00BA38"/><circle cx="98.37" cy="36.58" r="1.38" fill="#F8766D"/><circle cx="180.42" cy="248.39" r="1.38" fill="#F8766D"/><circle cx="175.62" cy="19.68" r="1.38" fill="#00BA38"/><circle cx="320.62" cy="243.88" r="1.38" fill="#00BA38"/><circle cx="322.06" cy="34.88" r="1.38" fill="#619CFF"/><circle cx="98.57" cy="244.22" r="1.38" fill="#00BA38"/><circle cx="106.27" cy="253.41" r="1.38" fill="#00BA38"/><circle cx="317.59" cy="243.71" r="1.38" fill="#00BA38"/><circle cx="179.67" cy="24.42" r="1.38" fill="#619CFF"/><circle cx="150.77" cy="35.33" r="1.38" fill="#619CFF"/><circle cx="272.00" cy="245.49" r="1.38" fill="#619CFF"/><circle cx="178.90" cy="27.48" r="1.38" fill="#00BA38"/><circle cx="106.51" cy="29.44" r="1.38" fill="#619CFF"/><circle cx="269.43" cy="250.45" r="1.38" fill="#F8766D"/><circle cx="101.72" cy="20.90" r="1.38" fill="#619CFF"/><circle cx="109.65" cy="22.35" r="1.38" fill="#F8766D"/><circle cx="127.90" cy="34.46" r="1.38" fill="#00BA38"/><circle cx="219.24" cy="16.45" r="1.38" fill="#619CFF"/><circle cx="222.69" cy="33.46" r="1.38" fill="#619CFF"/><circle cx="223.18" cy="34.84" r="1.38" fill="#619CFF"/><circle cx="142.98" cy="33.96" r="1.38" fill="#00BA38"/><circle cx="189.20" cy="26.79" r="1.38" fill="#619CFF"/><circle cx="155.85" cy="18.47" r="1.38" fill="#00BA38"/><circle cx="108.92" cy="33.38" r="1.38" fill="#F8766D"/><circle cx="105.74" cy="256.72" r="1.38" fill="#F8766D"/><circle cx="125.31" cy="27.65" r="1.38" fill="#00BA38"/><circle cx="181.09" cy="252.13" r="1.38" fill="#619CFF"/><circle cx="179.16" cy="33.72" r="1.38" fill="#619CFF"/><circle cx="222.36" cy="29.71" r="1.38" fill="#619CFF"/><circle cx="87.35" cy="16.85" r="1.38" fill="#F8766D"/><circle cx="109.49" cy="27.07" r="1.38" fill="#00BA38"/><circle cx="122.50" cy="29.17" r="1.38" fill="#619CFF"/><circle cx="317.61" cy="20.29" r="1.38" fill="#00BA38"/><circle cx="95.78" cy="243.27" r="1.38" fill="#619CFF"/><circle cx="271.18" cy="22.99" r="1.38" fill="#619CFF"/><circle cx="122.43" cy="251.24" r="1.38" fill="#F8766D"/><circle cx="156.74" cy="28.84" r="1.38" fill="#00BA38"/><circle cx="98.52" cy="36.02" r="1.38" fill="#F8766D"/><circle cx="159.22" cy="19.21" r="1.38" fill="#00BA38"/><circle cx="95.26" cy="236.03" r="1.38" fill="#F8766D"/><circle cx="268.64" cy="246.60" r="1.38" fill="#619CFF"/><circle cx="89.66" cy="252.93" r="1.38" fill="#619CFF"/><circle cx="94.26" cy="254.19" r="1.38" fill="#619CFF"/><circle cx="220.95" cy="240.03" r="1.38" fill="#F8766D"/><circle cx="160.62" cy="248.35" r="1.38" fill="#F8766D"/><circle cx="107.23" cy="241.38" r="1.38" fill="#619CFF"/><circle cx="121.57" cy="238.01" r="1.38" fill="#F8766D"/><circle cx="100.23" cy="22.17" r="1.38" fill="#F8766D"/><circle cx="99.69" cy="253.08" r="1.38" fill="#00BA38"/><circle cx="223.14" cy="31.97" r="1.38" fill="#00BA38"/><circle cx="101.21" cy="245.42" r="1.38" fill="#619CFF"/><circle cx="99.41" cy="21.61" r="1.38" fill="#619CFF"/><circle cx="159.12" cy="250.50" r="1.38" fill="#00BA38"/><circle cx="140.63" cy="33.63" r="1.38" fill="#00BA38"/><circle cx="157.75" cy="22.60" r="1.38" fill="#619CFF"/><circle cx="99.03" cy="21.07" r="1.38" fill="#619CFF"/><circle cx="271.43" cy="27.99" r="1.38" fill="#F8766D"/><circle cx="158.05" cy="21.19" r="1.38" fill="#619CFF"/><circle cx="97.69" cy="247.26" r="1.38" fill="#619CFF"/><circle cx="189.12" cy="249.68" r="1.38" fill="#619CFF"/><circle cx="107.14" cy="256.91" r="1.38" fill="#619CFF"/><circle cx="85.47" cy="240.71" r="1.38" fill="#00BA38"/><circle cx="112.56" cy="238.01" r="1.38" fill="#619CFF"/><circle cx="98.04" cy="253.41" r="1.38" fill="#619CFF"/><circle cx="270.02" cy="251.93" r="1.38" fill="#619CFF"/><circle cx="95.48" cy="243.49" r="1.38" fill="#F8766D"/><circle cx="100.06" cy="32.52" r="1.38" fill="#619CFF"/><circle cx="142.22" cy="33.43" r="1.38" fill="#F8766D"/><circle cx="106.31" cy="246.58" r="1.38" fill="#00BA38"/><circle cx="106.11" cy="25.29" r="1.38" fill="#00BA38"/><circle cx="111.06" cy="33.91" r="1.38" fill="#00BA38"/><circle cx="98.43" cy="250.40" r="1.38" fill="#619CFF"/><circle cx="176.96" cy="31.45" r="1.38" fill="#619CFF"/><circle cx="182.84" cy="28.32" r="1.38" fill="#00BA38"/><circle cx="222.96" cy="256.50" r="1.38" fill="#F8766D"/><circle cx="107.39" cy="32.49" r="1.38" fill="#00BA38"/><circle cx="152.22" cy="28.78" r="1.38" fill="#619CFF"/><circle cx="101.89" cy="246.41" r="1.38" fill="#00BA38"/><circle cx="108.00" cy="243.42" r="1.38" fill="#00BA38"/><circle cx="118.71" cy="252.59" r="1.38" fill="#619CFF"/><circle cx="97.64" cy="243.96" r="1.38" fill="#619CFF"/><circle cx="316.58" cy="16.93" r="1.38" fill="#00BA38"/><circle cx="96.13" cy="22.33" r="1.38" fill="#00BA38"/><circle cx="161.71" cy="250.31" r="1.38" fill="#00BA38"/><circle cx="96.27" cy="20.90" r="1.38" fill="#619CFF"/><circle cx="94.70" cy="252.93" r="1.38" fill="#00BA38"/><circle cx="118.68" cy="21.35" r="1.38" fill="#F8766D"/><circle cx="158.69" cy="239.68" r="1.38" fill="#00BA38"/><circle cx="319.43" cy="27.85" r="1.38" fill="#619CFF"/><circle cx="191.80" cy="19.64" r="1.38" fill="#619CFF"/><circle cx="191.69" cy="34.69" r="1.38" fill="#619CFF"/><circle cx="156.81" cy="22.34" r="1.38" fill="#F8766D"/><circle cx="101.94" cy="31.22" r="1.38" fill="#00BA38"/><circle cx="222.09" cy="247.69" r="1.38" fill="#00BA38"/><circle cx="191.05" cy="238.14" r="1.38" fill="#619CFF"/><circle cx="317.75" cy="255.33" r="1.38" fill="#00BA38"/><circle cx="224.09" cy="240.28" r="1.38" fill="#619CFF"/><circle cx="94.49" cy="25.55" r="1.38" fill="#F8766D"/><circle cx="123.93" cy="24.12" r="1.38" fill="#619CFF"/><circle cx="99.70" cy="33.98" r="1.38" fill="#00BA38"/><circle cx="123.04" cy="253.20" r="1.38" fill="#F8766D"/><circle cx="97.63" cy="245.33" r="1.38" fill="#00BA38"/><circle cx="175.96" cy="32.41" r="1.38" fill="#00BA38"/><circle cx="191.92" cy="251.29" r="1.38" fill="#619CFF"/><circle cx="95.91" cy="251.68" r="1.38" fill="#619CFF"/><circle cx="137.98" cy="33.22" r="1.38" fill="#619CFF"/><circle cx="101.31" cy="37.00" r="1.38" fill="#619CFF"/><circle cx="221.13" cy="254.46" r="1.38" fill="#619CFF"/><circle cx="181.06" cy="21.84" r="1.38" fill="#00BA38"/><circle cx="160.95" cy="246.88" r="1.38" fill="#619CFF"/><circle cx="176.04" cy="241.46" r="1.38" fill="#00BA38"/><circle cx="160.07" cy="249.01" r="1.38" fill="#00BA38"/><circle cx="220.76" cy="21.26" r="1.38" fill="#619CFF"/><circle cx="123.95" cy="246.64" r="1.38" fill="#619CFF"/><circle cx="96.29" cy="250.22" r="1.38" fill="#F8766D"/><circle cx="176.72" cy="240.82" r="1.38" fill="#F8766D"/><circle cx="137.38" cy="257.24" r="1.38" fill="#F8766D"/><circle cx="180.45" cy="248.28" r="1.38" fill="#F8766D"/><circle cx="80.14" cy="240.97" r="1.38" fill="#619CFF"/><circle cx="178.13" cy="250.78" r="1.38" fill="#00BA38"/><circle cx="127.29" cy="244.42" r="1.38" fill="#00BA38"/><circle cx="152.06" cy="34.13" r="1.38" fill="#00BA38"/><circle cx="92.71" cy="253.55" r="1.38" fill="#619CFF"/><circle cx="96.82" cy="16.02" r="1.38" fill="#00BA38"/><circle cx="92.80" cy="16.50" r="1.38" fill="#619CFF"/><circle cx="99.37" cy="238.00" r="1.38" fill="#00BA38"/><circle cx="158.54" cy="34.14" r="1.38" fill="#00BA38"/><circle cx="121.36" cy="244.44" r="1.38" fill="#F8766D"/><circle cx="99.50" cy="35.47" r="1.38" fill="#619CFF"/><circle cx="93.97" cy="16.63" r="1.38" fill="#619CFF"/><circle cx="182.64" cy="241.34" r="1.38" fill="#619CFF"/><circle cx="269.35" cy="254.34" r="1.38" fill="#619CFF"/><circle cx="122.41" cy="244.10" r="1.38" fill="#619CFF"/><circle cx="178.00" cy="256.21" r="1.38" fill="#619CFF"/><circle cx="120.69" cy="33.21" r="1.38" fill="#00BA38"/><circle cx="221.31" cy="37.31" r="1.38" fill="#F8766D"/><circle cx="150.91" cy="237.59" r="1.38" fill="#F8766D"/><circle cx="153.30" cy="29.57" r="1.38" fill="#619CFF"/><circle cx="98.07" cy="248.38" r="1.38" fill="#619CFF"/><circle cx="175.05" cy="22.58" r="1.38" fill="#619CFF"/><circle cx="187.34" cy="33.83" r="1.38" fill="#F8766D"/><circle cx="108.78" cy="244.55" r="1.38" fill="#F8766D"/><circle cx="121.59" cy="245.50" r="1.38" fill="#619CFF"/><circle cx="96.60" cy="27.33" r="1.38" fill="#F8766D"/><circle cx="109.91" cy="28.49" r="1.38" fill="#F8766D"/><circle cx="87.81" cy="256.29" r="1.38" fill="#619CFF"/><circle cx="321.13" cy="255.01" r="1.38" fill="#00BA38"/><circle cx="143.05" cy="254.41" r="1.38" fill="#F8766D"/><circle cx="119.03" cy="31.11" r="1.38" fill="#F8766D"/><circle cx="93.83" cy="253.00" r="1.38" fill="#619CFF"/><circle cx="140.03" cy="17.29" r="1.38" fill="#619CFF"/><circle cx="76.66" cy="242.36" r="1.38" fill="#00BA38"/><circle cx="111.01" cy="18.54" r="1.38" fill="#F8766D"/><circle cx="177.36" cy="251.22" r="1.38" fill="#F8766D"/><circle cx="317.49" cy="238.77" r="1.38" fill="#00BA38"/><circle cx="189.77" cy="237.43" r="1.38" fill="#619CFF"/><circle cx="322.00" cy="24.36" r="1.38" fill="#00BA38"/><circle cx="176.15" cy="19.94" r="1.38" fill="#619CFF"/><circle cx="119.09" cy="251.72" r="1.38" fill="#F8766D"/><circle cx="223.74" cy="249.70" r="1.38" fill="#00BA38"/><circle cx="110.77" cy="241.42" r="1.38" fill="#00BA38"/><circle cx="187.37" cy="27.73" r="1.38" fill="#00BA38"/><circle cx="108.70" cy="17.05" r="1.38" fill="#00BA38"/><circle cx="94.81" cy="22.57" r="1.38" fill="#F8766D"/><circle cx="223.36" cy="20.00" r="1.38" fill="#F8766D"/><circle cx="179.75" cy="22.63" r="1.38" fill="#00BA38"/><circle cx="122.78" cy="29.76" r="1.38" fill="#619CFF"/><circle cx="159.10" cy="21.80" r="1.38" fill="#619CFF"/><circle cx="127.33" cy="23.66" r="1.38" fill="#F8766D"/><circle cx="110.04" cy="241.43" r="1.38" fill="#619CFF"/><circle cx="160.09" cy="21.91" r="1.38" fill="#00BA38"/><circle cx="139.43" cy="32.98" r="1.38" fill="#00BA38"/><circle cx="100.32" cy="254.55" r="1.38" fill="#619CFF"/><circle cx="97.02" cy="31.04" r="1.38" fill="#619CFF"/><circle cx="95.66" cy="17.82" r="1.38" fill="#00BA38"/><circle cx="321.29" cy="27.02" r="1.38" fill="#619CFF"/><circle cx="111.83" cy="26.43" r="1.38" fill="#619CFF"/><circle cx="110.35" cy="36.60" r="1.38" fill="#00BA38"/><circle cx="142.08" cy="23.17" r="1.38" fill="#619CFF"/><circle cx="222.17" cy="242.85" r="1.38" fill="#619CFF"/><circle cx="191.75" cy="29.92" r="1.38" fill="#F8766D"/><circle cx="109.71" cy="253.84" r="1.38" fill="#619CFF"/><circle cx="96.36" cy="244.57" r="1.38" fill="#619CFF"/><circle cx="107.16" cy="18.74" r="1.38" fill="#619CFF"/><circle cx="109.70" cy="33.81" r="1.38" fill="#619CFF"/><circle cx="92.00" cy="27.41" r="1.38" fill="#619CFF"/><circle cx="220.72" cy="26.10" r="1.38" fill="#F8766D"/><circle cx="120.37" cy="32.71" r="1.38" fill="#F8766D"/><circle cx="126.26" cy="243.67" r="1.38" fill="#619CFF"/><circle cx="118.33" cy="32.36" r="1.38" fill="#F8766D"/><circle cx="140.59" cy="255.07" r="1.38" fill="#F8766D"/><circle cx="108.75" cy="19.51" r="1.38" fill="#619CFF"/><circle cx="159.70" cy="26.13" r="1.38" fill="#00BA38"/><circle cx="321.10" cy="245.64" r="1.38" fill="#F8766D"/><circle cx="110.63" cy="237.38" r="1.38" fill="#F8766D"/><circle cx="109.35" cy="32.36" r="1.38" fill="#F8766D"/><circle cx="96.54" cy="237.99" r="1.38" fill="#00BA38"/><circle cx="106.78" cy="32.90" r="1.38" fill="#00BA38"/><circle cx="122.94" cy="249.62" r="1.38" fill="#00BA38"/><circle cx="321.07" cy="238.36" r="1.38" fill="#619CFF"/><circle cx="137.47" cy="37.04" r="1.38" fill="#F8766D"/><circle cx="96.37" cy="24.06" r="1.38" fill="#619CFF"/><circle cx="78.33" cy="37.09" r="1.38" fill="#619CFF"/><circle cx="124.65" cy="248.49" r="1.38" fill="#F8766D"/><circle cx="97.93" cy="251.96" r="1.38" fill="#619CFF"/><circle cx="107.89" cy="236.50" r="1.38" fill="#00BA38"/><circle cx="106.62" cy="18.77" r="1.38" fill="#00BA38"/><circle cx="94.94" cy="34.04" r="1.38" fill="#619CFF"/><circle cx="153.51" cy="247.16" r="1.38" fill="#00BA38"/><circle cx="95.01" cy="19.17" r="1.38" fill="#619CFF"/><circle cx="192.05" cy="17.94" r="1.38" fill="#00BA38"/><circle cx="120.71" cy="23.50" r="1.38" fill="#F8766D"/><circle cx="95.22" cy="24.63" r="1.38" fill="#00BA38"/><circle cx="151.06" cy="23.00" r="1.38" fill="#619CFF"/><circle cx="189.54" cy="251.14" r="1.38" fill="#619CFF"/><circle cx="122.26" cy="29.96" r="1.38" fill="#619CFF"/><circle cx="183.04" cy="18.65" r="1.38" fill="#00BA38"/><circle cx="156.09" cy="236.72" r="1.38" fill="#619CFF"/><circle cx="140.43" cy="33.22" r="1.38" fill="#F8766D"/><circle cx="222.03" cy="23.21" r="1.38" fill="#F8766D"/><circle cx="220.30" cy="30.84" r="1.38" fill="#619CFF"/><circle cx="123.16" cy="26.65" r="1.38" fill="#00BA38"/><circle cx="106.95" cy="255.93" r="1.38" fill="#F8766D"/><circle cx="273.71" cy="240.23" r="1.38" fill="#619CFF"/><circle cx="95.77" cy="240.87" r="1.38" fill="#00BA38"/><circle cx="160.72" cy="254.55" r="1.38" fill="#00BA38"/><circle cx="188.01" cy="25.57" r="1.38" fill="#F8766D"/><circle cx="93.17" cy="33.53" r="1.38" fill="#00BA38"/><circle cx="117.82" cy="244.74" r="1.38" fill="#00BA38"/><circle cx="218.61" cy="245.98" r="1.38" fill="#F8766D"/><circle cx="99.48" cy="16.85" r="1.38" fill="#00BA38"/><circle cx="321.97" cy="35.08" r="1.38" fill="#00BA38"/><circle cx="220.50" cy="37.35" r="1.38" fill="#00BA38"/><circle cx="322.13" cy="21.06" r="1.38" fill="#619CFF"/><circle cx="269.87" cy="37.22" r="1.38" fill="#619CFF"/><circle cx="96.35" cy="27.14" r="1.38" fill="#00BA38"/><circle cx="87.56" cy="34.90" r="1.38" fill="#619CFF"/><circle cx="188.87" cy="20.12" r="1.38" fill="#F8766D"/><circle cx="142.33" cy="245.60" r="1.38" fill="#619CFF"/><circle cx="93.10" cy="241.14" r="1.38" fill="#619CFF"/><circle cx="186.58" cy="240.82" r="1.38" fill="#619CFF"/><circle cx="96.24" cy="22.51" r="1.38" fill="#619CFF"/><circle cx="96.79" cy="27.06" r="1.38" fill="#619CFF"/><circle cx="94.54" cy="247.08" r="1.38" fill="#00BA38"/><circle cx="122.40" cy="253.19" r="1.38" fill="#F8766D"/><circle cx="182.46" cy="22.18" r="1.38" fill="#619CFF"/><circle cx="110.70" cy="250.76" r="1.38" fill="#00BA38"/><circle cx="179.90" cy="16.02" r="1.38" fill="#619CFF"/><circle cx="108.09" cy="252.03" r="1.38" fill="#F8766D"/><circle cx="141.86" cy="245.63" r="1.38" fill="#619CFF"/><circle cx="109.79" cy="257.23" r="1.38" fill="#00BA38"/><circle cx="161.80" cy="248.05" r="1.38" fill="#00BA38"/><circle cx="84.79" cy="237.15" r="1.38" fill="#619CFF"/><circle cx="138.96" cy="25.26" r="1.38" fill="#00BA38"/><circle cx="318.45" cy="236.08" r="1.38" fill="#00BA38"/><circle cx="98.64" cy="254.86" r="1.38" fill="#00BA38"/><circle cx="180.04" cy="253.09" r="1.38" fill="#00BA38"/><circle cx="97.50" cy="252.13" r="1.38" fill="#00BA38"/><circle cx="158.66" cy="237.04" r="1.38" fill="#619CFF"/><circle cx="77.03" cy="248.26" r="1.38" fill="#619CFF"/><circle cx="188.32" cy="20.22" r="1.38" fill="#619CFF"/><circle cx="181.78" cy="18.35" r="1.38" fill="#00BA38"/><circle cx="127.04" cy="247.84" r="1.38" fill="#619CFF"/><circle cx="100.45" cy="37.01" r="1.38" fill="#00BA38"/><circle cx="125.39" cy="26.47" r="1.38" fill="#619CFF"/><circle cx="119.95" cy="22.93" r="1.38" fill="#619CFF"/><circle cx="121.51" cy="237.81" r="1.38" fill="#00BA38"/><circle cx="96.63" cy="17.83" r="1.38" fill="#619CFF"/><circle cx="220.65" cy="18.93" r="1.38" fill="#00BA38"/><circle cx="98.18" cy="25.74" r="1.38" fill="#F8766D"/><circle cx="122.41" cy="16.25" r="1.38" fill="#619CFF"/><circle cx="272.23" cy="23.44" r="1.38" fill="#619CFF"/><circle cx="122.24" cy="244.80" r="1.38" fill="#619CFF"/><circle cx="189.17" cy="247.67" r="1.38" fill="#00BA38"/><circle cx="178.20" cy="33.62" r="1.38" fill="#00BA38"/><circle cx="221.70" cy="256.02" r="1.38" fill="#F8766D"/><circle cx="127.24" cy="33.63" r="1.38" fill="#619CFF"/><circle cx="140.23" cy="236.14" r="1.38" fill="#00BA38"/><circle cx="151.76" cy="17.23" r="1.38" fill="#F8766D"/><circle cx="95.35" cy="236.56" r="1.38" fill="#F8766D"/><circle cx="87.18" cy="19.63" r="1.38" fill="#F8766D"/><circle cx="181.80" cy="248.63" r="1.38" fill="#F8766D"/><circle cx="183.10" cy="34.60" r="1.38" fill="#619CFF"/><circle cx="161.50" cy="33.60" r="1.38" fill="#619CFF"/><circle cx="220.17" cy="250.91" r="1.38" fill="#F8766D"/><circle cx="125.65" cy="253.56" r="1.38" fill="#00BA38"/><circle cx="119.32" cy="35.47" r="1.38" fill="#F8766D"/><circle cx="126.97" cy="251.11" r="1.38" fill="#F8766D"/><circle cx="122.61" cy="29.70" r="1.38" fill="#619CFF"/><circle cx="111.05" cy="250.07" r="1.38" fill="#00BA38"/><circle cx="123.59" cy="236.52" r="1.38" fill="#00BA38"/><circle cx="180.22" cy="35.63" r="1.38" fill="#00BA38"/><circle cx="93.96" cy="245.60" r="1.38" fill="#619CFF"/><circle cx="92.74" cy="255.24" r="1.38" fill="#F8766D"/><circle cx="221.24" cy="34.10" r="1.38" fill="#F8766D"/><circle cx="110.71" cy="255.80" r="1.38" fill="#F8766D"/><circle cx="96.89" cy="256.60" r="1.38" fill="#F8766D"/><circle cx="158.32" cy="248.35" r="1.38" fill="#00BA38"/><circle cx="93.06" cy="29.48" r="1.38" fill="#00BA38"/><circle cx="110.22" cy="245.12" r="1.38" fill="#F8766D"/><circle cx="156.34" cy="17.20" r="1.38" fill="#619CFF"/><circle cx="178.54" cy="30.43" r="1.38" fill="#619CFF"/><circle cx="189.61" cy="255.52" r="1.38" fill="#619CFF"/><circle cx="95.99" cy="245.90" r="1.38" fill="#619CFF"/><circle cx="155.66" cy="241.45" r="1.38" fill="#00BA38"/><circle cx="273.06" cy="23.83" r="1.38" fill="#619CFF"/><circle cx="96.76" cy="17.17" r="1.38" fill="#00BA38"/><circle cx="142.54" cy="253.78" r="1.38" fill="#619CFF"/><circle cx="188.03" cy="250.98" r="1.38" fill="#F8766D"/><circle cx="112.47" cy="243.15" r="1.38" fill="#F8766D"/><circle cx="102.16" cy="255.82" r="1.38" fill="#619CFF"/><circle cx="110.40" cy="28.72" r="1.38" fill="#F8766D"/><circle cx="104.75" cy="21.05" r="1.38" fill="#619CFF"/><circle cx="191.22" cy="21.17" r="1.38" fill="#00BA38"/><circle cx="153.04" cy="255.40" r="1.38" fill="#F8766D"/><circle cx="156.15" cy="19.01" r="1.38" fill="#00BA38"/><circle cx="120.07" cy="236.43" r="1.38" fill="#F8766D"/><circle cx="119.31" cy="36.39" r="1.38" fill="#619CFF"/><circle cx="105.79" cy="251.43" r="1.38" fill="#00BA38"/><circle cx="179.97" cy="26.81" r="1.38" fill="#619CFF"/><circle cx="178.01" cy="27.95" r="1.38" fill="#00BA38"/><circle cx="85.39" cy="243.05" r="1.38" fill="#00BA38"/><circle cx="111.59" cy="31.45" r="1.38" fill="#619CFF"/><circle cx="106.99" cy="241.32" r="1.38" fill="#619CFF"/><circle cx="121.47" cy="244.54" r="1.38" fill="#00BA38"/><circle cx="179.96" cy="29.24" r="1.38" fill="#619CFF"/><circle cx="86.59" cy="236.25" r="1.38" fill="#F8766D"/><circle cx="220.10" cy="251.07" r="1.38" fill="#619CFF"/><circle cx="111.97" cy="251.07" r="1.38" fill="#00BA38"/><circle cx="182.37" cy="236.64" r="1.38" fill="#F8766D"/><circle cx="150.52" cy="255.36" r="1.38" fill="#00BA38"/><circle cx="108.44" cy="237.67" r="1.38" fill="#00BA38"/><circle cx="182.40" cy="253.65" r="1.38" fill="#00BA38"/><circle cx="271.00" cy="237.97" r="1.38" fill="#00BA38"/><circle cx="121.96" cy="34.22" r="1.38" fill="#F8766D"/><circle cx="98.92" cy="29.74" r="1.38" fill="#619CFF"/><circle cx="97.70" cy="244.64" r="1.38" fill="#619CFF"/><circle cx="96.81" cy="28.13" r="1.38" fill="#619CFF"/><circle cx="190.29" cy="241.20" r="1.38" fill="#619CFF"/><circle cx="124.36" cy="34.61" r="1.38" fill="#619CFF"/><circle cx="153.98" cy="254.30" r="1.38" fill="#F8766D"/><circle cx="126.73" cy="239.75" r="1.38" fill="#00BA38"/><circle cx="96.47" cy="27.52" r="1.38" fill="#619CFF"/><circle cx="121.94" cy="254.11" r="1.38" fill="#619CFF"/><circle cx="189.72" cy="244.69" r="1.38" fill="#619CFF"/><circle cx="106.56" cy="37.17" r="1.38" fill="#00BA38"/><circle cx="98.42" cy="242.86" r="1.38" fill="#00BA38"/><circle cx="110.10" cy="29.69" r="1.38" fill="#619CFF"/><circle cx="110.38" cy="252.50" r="1.38" fill="#F8766D"/><circle cx="219.41" cy="252.27" r="1.38" fill="#F8766D"/><circle cx="106.98" cy="257.14" r="1.38" fill="#00BA38"/><circle cx="137.12" cy="21.68" r="1.38" fill="#F8766D"/><circle cx="175.40" cy="16.27" r="1.38" fill="#619CFF"/><circle cx="111.54" cy="24.38" r="1.38" fill="#F8766D"/><circle cx="106.97" cy="29.93" r="1.38" fill="#F8766D"/><circle cx="98.94" cy="245.50" r="1.38" fill="#F8766D"/><circle cx="128.21" cy="245.97" r="1.38" fill="#619CFF"/><circle cx="79.16" cy="23.90" r="1.38" fill="#F8766D"/><circle cx="120.97" cy="20.68" r="1.38" fill="#619CFF"/>
<line x1="63.5" y1="3.3" x2="63.5" y2="270" stroke="#4a4a4a" stroke-width="1.2"/><line x1="63" y1="269.5" x2="334.5" y2="269.5" stroke="#3a3a3a" stroke-width="1.15"/><line x1="60.7" y1="26.80" x2="63" y2="26.80" stroke="#555" stroke-width="1"/><text x="59.6" y="32.00" class="t" text-anchor="end" font-size="12.1" fill="#1a1a1a">1.00</text><line x1="60.7" y1="81.73" x2="63" y2="81.73" stroke="#555" stroke-width="1"/><text x="59.6" y="86.93" class="t" text-anchor="end" font-size="12.1" fill="#1a1a1a">0.75</text><line x1="60.7" y1="136.65" x2="63" y2="136.65" stroke="#555" stroke-width="1"/><text x="59.6" y="141.85" class="t" text-anchor="end" font-size="12.1" fill="#1a1a1a">0.50</text><line x1="60.7" y1="191.57" x2="63" y2="191.57" stroke="#555" stroke-width="1"/><text x="59.6" y="196.77" class="t" text-anchor="end" font-size="12.1" fill="#1a1a1a">0.25</text><line x1="60.7" y1="246.50" x2="63" y2="246.50" stroke="#555" stroke-width="1"/><text x="59.6" y="251.70" class="t" text-anchor="end" font-size="12.1" fill="#1a1a1a">0.00</text><line x1="122.30" y1="269.5" x2="122.30" y2="271.8" stroke="#555" stroke-width="1"/><text x="122.30" y="282.6" class="t" text-anchor="middle" font-size="12" fill="#1a1a1a">200</text><line x1="183.40" y1="269.5" x2="183.40" y2="271.8" stroke="#555" stroke-width="1"/><text x="183.40" y="282.6" class="t" text-anchor="middle" font-size="12" fill="#1a1a1a">400</text><line x1="244.50" y1="269.5" x2="244.50" y2="271.8" stroke="#555" stroke-width="1"/><text x="244.50" y="282.6" class="t" text-anchor="middle" font-size="12" fill="#1a1a1a">600</text><line x1="305.60" y1="269.5" x2="305.60" y2="271.8" stroke="#555" stroke-width="1"/><text x="305.60" y="282.6" class="t" text-anchor="middle" font-size="12" fill="#1a1a1a">800</text>
<text x="126.60" y="53.20" class="u" font-size="12.8" fill="#1a1a1a">Group Composition</text><rect x="126.20" y="59.90" width="13.5" height="39" fill="#D6D6D6"/><line x1="127.40" y1="66.30" x2="138.40" y2="66.30" stroke="#F8766D" stroke-width="1.1"/><circle cx="132.90" cy="66.30" r="1.3" fill="#F8766D"/><text x="145.90" y="71.40" class="u" font-size="12.6" fill="#1a1a1a">Group without helpers</text><line x1="127.40" y1="79.30" x2="138.40" y2="79.30" stroke="#00BA38" stroke-width="1.1"/><circle cx="132.90" cy="79.30" r="1.3" fill="#00BA38"/><text x="145.90" y="84.40" class="u" font-size="12.6" fill="#1a1a1a">Group with helpers</text><line x1="127.40" y1="92.30" x2="138.40" y2="92.30" stroke="#619CFF" stroke-width="1.1"/><circle cx="132.90" cy="92.30" r="1.3" fill="#619CFF"/><text x="145.90" y="97.40" class="u" font-size="12.6" fill="#1a1a1a">Pair</text>
<text x="2.6" y="15.4" font-size="18" font-weight="bold" fill="#000">(a)</text>
<g fill="none" stroke="#111" stroke-width="2.1"><ellipse cx="25.8" cy="26.3" rx="3.25" ry="5.6"/><line x1="28.2" y1="21.4" x2="31.0" y2="18.2"/></g><polygon points="27.8,16.3 32.3,16.3 32.3,21.9" fill="#111"/><g fill="none" stroke="#111" stroke-width="2"><ellipse cx="23.9" cy="244.6" rx="4.0" ry="4.2"/><line x1="23.9" y1="248.8" x2="23.9" y2="257.2"/><line x1="21.3" y1="253.2" x2="26.7" y2="253.2"/></g>
<text transform="translate(30.7,136.7) rotate(-90)" class="u" text-anchor="middle" font-size="15.5" fill="#1a1a1a">Offspring sex</text>
<text x="199.1" y="298.9" class="u" text-anchor="middle" font-size="15.25" fill="#1a1a1a">Rainfall (mm)</text>
<polygon points="408.20,240.55 411.47,240.11 414.74,239.67 418.01,239.22 421.28,238.77 424.55,238.32 427.82,237.87 431.09,237.41 434.36,236.96 437.63,236.50 440.90,236.05 444.17,235.60 447.44,235.15 450.71,234.70 453.98,234.26 457.25,233.82 460.52,233.39 463.79,232.96 467.06,232.54 470.33,232.13 473.60,231.72 476.87,231.32 480.14,230.94 483.41,230.56 486.68,230.19 489.95,229.83 493.22,229.49 496.49,229.16 499.76,228.84 503.03,228.53 506.30,228.24 509.57,227.96 512.84,227.70 516.11,227.45 519.38,227.23 522.65,227.01 525.92,226.82 529.19,226.65 532.46,226.50 535.73,226.36 539.00,226.25 542.27,226.17 545.54,226.10 548.81,226.05 552.08,226.02 555.35,226.00 558.62,226.01 561.89,226.02 565.16,226.06 568.43,226.09 571.70,226.13 574.97,226.17 578.24,226.22 581.51,226.27 584.78,226.32 588.05,226.39 591.32,226.46 594.59,226.55 597.86,226.66 601.13,226.78 604.40,226.91 607.67,227.07 610.94,227.25 614.21,227.46 617.48,227.69 620.75,227.95 624.02,228.22 627.29,228.51 630.56,228.80 633.83,229.12 637.10,229.45 640.37,229.80 643.64,230.18 646.91,230.58 650.18,231.02 653.45,231.49 656.72,232.00 659.99,232.55 663.26,233.14 666.53,233.79 669.80,234.48 669.80,251.17 666.53,250.70 663.26,250.22 659.99,249.73 656.72,249.23 653.45,248.73 650.18,248.23 646.91,247.73 643.64,247.22 640.37,246.72 637.10,246.22 633.83,245.72 630.56,245.23 627.29,244.74 624.02,244.27 620.75,243.81 617.48,243.36 614.21,242.91 610.94,242.47 607.67,242.03 604.40,241.61 601.13,241.19 597.86,240.78 594.59,240.39 591.32,240.01 588.05,239.65 584.78,239.30 581.51,238.97 578.24,238.67 574.97,238.39 571.70,238.13 568.43,237.90 565.16,237.69 561.89,237.52 558.62,237.36 555.35,237.22 552.08,237.11 548.81,237.01 545.54,236.93 542.27,236.88 539.00,236.84 535.73,236.82 532.46,236.82 529.19,236.83 525.92,236.86 522.65,236.91 519.38,236.97 516.11,237.05 512.84,237.14 509.57,237.25 506.30,237.37 503.03,237.50 499.76,237.65 496.49,237.81 493.22,237.98 489.95,238.17 486.68,238.36 483.41,238.56 480.14,238.78 476.87,239.00 473.60,239.23 470.33,239.47 467.06,239.72 463.79,239.98 460.52,240.24 457.25,240.51 453.98,240.78 450.71,241.06 447.44,241.35 444.17,241.64 440.90,241.93 437.63,242.23 434.36,242.53 431.09,242.83 427.82,243.13 424.55,243.44 421.28,243.74 418.01,244.05 414.74,244.36 411.47,244.66 408.20,244.97" fill="#999999" fill-opacity="0.4"/><polygon points="408.20,213.53 411.47,213.65 414.74,213.75 418.01,213.84 421.28,213.91 424.55,213.97 427.82,214.01 431.09,214.03 434.36,214.03 437.63,214.03 440.90,214.01 444.17,213.97 447.44,213.92 450.71,213.86 453.98,213.78 457.25,213.70 460.52,213.60 463.79,213.49 467.06,213.37 470.33,213.24 473.60,213.09 476.87,212.94 480.14,212.78 483.41,212.61 486.68,212.44 489.95,212.25 493.22,212.06 496.49,211.86 499.76,211.65 503.03,211.44 506.30,211.22 509.57,211.00 512.84,210.77 516.11,210.54 519.38,210.30 522.65,210.06 525.92,209.82 529.19,209.57 532.46,209.32 535.73,209.07 539.00,208.82 542.27,208.56 545.54,208.31 548.81,208.05 552.08,207.80 555.35,207.53 558.62,207.27 561.89,207.00 565.16,206.72 568.43,206.44 571.70,206.15 574.97,205.85 578.24,205.53 581.51,205.21 584.78,204.88 588.05,204.53 591.32,204.17 594.59,203.80 597.86,203.40 601.13,203.00 604.40,202.57 607.67,202.12 610.94,201.66 614.21,201.17 617.48,200.67 620.75,200.14 624.02,199.58 627.29,199.01 630.56,198.40 633.83,197.77 637.10,197.11 640.37,196.43 643.64,195.71 646.91,194.97 650.18,194.19 653.45,193.38 656.72,192.54 659.99,191.66 663.26,190.75 666.53,189.80 669.80,188.81 669.80,227.27 666.53,227.04 663.26,226.81 659.99,226.59 656.72,226.38 653.45,226.17 650.18,225.96 646.91,225.77 643.64,225.57 640.37,225.39 637.10,225.20 633.83,225.03 630.56,224.86 627.29,224.69 624.02,224.53 620.75,224.38 617.48,224.23 614.21,224.09 610.94,223.95 607.67,223.82 604.40,223.69 601.13,223.57 597.86,223.46 594.59,223.35 591.32,223.25 588.05,223.15 584.78,223.06 581.51,222.98 578.24,222.90 574.97,222.82 571.70,222.75 568.43,222.69 565.16,222.63 561.89,222.58 558.62,222.54 555.35,222.50 552.08,222.46 548.81,222.44 545.54,222.41 542.27,222.40 539.00,222.39 535.73,222.38 532.46,222.38 529.19,222.39 525.92,222.41 522.65,222.44 519.38,222.47 516.11,222.51 512.84,222.56 509.57,222.62 506.30,222.69 503.03,222.77 499.76,222.86 496.49,222.97 493.22,223.08 489.95,223.21 486.68,223.34 483.41,223.49 480.14,223.66 476.87,223.83 473.60,224.02 470.33,224.23 467.06,224.45 463.79,224.68 460.52,224.93 457.25,225.20 453.98,225.48 450.71,225.78 447.44,226.10 444.17,226.43 440.90,226.78 437.63,227.15 434.36,227.54 431.09,227.94 427.82,228.37 424.55,228.82 421.28,229.28 418.01,229.77 414.74,230.28 411.47,230.81 408.20,231.36" fill="#999999" fill-opacity="0.4"/><polygon points="408.20,242.96 411.47,242.76 414.74,242.56 418.01,242.37 421.28,242.17 424.55,241.98 427.82,241.79 431.09,241.61 434.36,241.42 437.63,241.24 440.90,241.05 444.17,240.87 447.44,240.69 450.71,240.52 453.98,240.34 457.25,240.16 460.52,239.99 463.79,239.82 467.06,239.64 470.33,239.47 473.60,239.30 476.87,239.14 480.14,238.97 483.41,238.82 486.68,238.66 489.95,238.51 493.22,238.37 496.49,238.23 499.76,238.09 503.03,237.96 506.30,237.84 509.57,237.71 512.84,237.60 516.11,237.49 519.38,237.38 522.65,237.28 525.92,237.19 529.19,237.10 532.46,237.01 535.73,236.93 539.00,236.84 542.27,236.76 545.54,236.67 548.81,236.59 552.08,236.51 555.35,236.43 558.62,236.35 561.89,236.28 565.16,236.20 568.43,236.14 571.70,236.07 574.97,236.01 578.24,235.96 581.51,235.91 584.78,235.87 588.05,235.83 591.32,235.80 594.59,235.78 597.86,235.77 601.13,235.76 604.40,235.77 607.67,235.78 610.94,235.80 614.21,235.84 617.48,235.88 620.75,235.94 624.02,236.00 627.29,236.07 630.56,236.14 633.83,236.21 637.10,236.29 640.37,236.38 643.64,236.48 646.91,236.58 650.18,236.70 653.45,236.82 656.72,236.96 659.99,237.12 663.26,237.29 666.53,237.47 669.80,237.67 669.80,246.66 666.53,246.38 663.26,246.10 659.99,245.82 656.72,245.55 653.45,245.29 650.18,245.03 646.91,244.78 643.64,244.54 640.37,244.30 637.10,244.08 633.83,243.86 630.56,243.66 627.29,243.46 624.02,243.28 620.75,243.11 617.48,242.95 614.21,242.79 610.94,242.65 607.67,242.50 604.40,242.37 601.13,242.24 597.86,242.12 594.59,242.00 591.32,241.89 588.05,241.79 584.78,241.70 581.51,241.61 578.24,241.54 574.97,241.47 571.70,241.41 568.43,241.35 565.16,241.31 561.89,241.28 558.62,241.25 555.35,241.24 552.08,241.23 548.81,241.24 545.54,241.25 542.27,241.28 539.00,241.31 535.73,241.35 532.46,241.41 529.19,241.47 525.92,241.54 522.65,241.62 519.38,241.70 516.11,241.79 512.84,241.88 509.57,241.98 506.30,242.08 503.03,242.19 499.76,242.30 496.49,242.41 493.22,242.53 489.95,242.66 486.68,242.79 483.41,242.92 480.14,243.05 476.87,243.19 473.60,243.33 470.33,243.48 467.06,243.63 463.79,243.79 460.52,243.95 457.25,244.11 453.98,244.28 450.71,244.46 447.44,244.63 444.17,244.82 440.90,245.00 437.63,245.19 434.36,245.38 431.09,245.57 427.82,245.77 424.55,245.97 421.28,246.17 418.01,246.37 414.74,246.57 411.47,246.77 408.20,246.97" fill="#999999" fill-opacity="0.4"/><polyline points="408.20,242.92 411.47,242.56 414.74,242.19 418.01,241.82 421.28,241.45 424.55,241.08 427.82,240.70 431.09,240.33 434.36,239.96 437.63,239.59 440.90,239.22 444.17,238.86 447.44,238.50 450.71,238.14 453.98,237.79 457.25,237.44 460.52,237.10 463.79,236.76 467.06,236.43 470.33,236.11 473.60,235.80 476.87,235.49 480.14,235.20 483.41,234.91 486.68,234.64 489.95,234.37 493.22,234.12 496.49,233.87 499.76,233.65 503.03,233.43 506.30,233.23 509.57,233.04 512.84,232.87 516.11,232.71 519.38,232.57 522.65,232.44 525.92,232.34 529.19,232.25 532.46,232.18 535.73,232.12 539.00,232.09 542.27,232.08 545.54,232.08 548.81,232.11 552.08,232.16 555.35,232.23 558.62,232.31 561.89,232.42 565.16,232.54 568.43,232.68 571.70,232.85 574.97,233.03 578.24,233.23 581.51,233.44 584.78,233.68 588.05,233.93 591.32,234.20 594.59,234.48 597.86,234.79 601.13,235.11 604.40,235.45 607.67,235.80 610.94,236.17 614.21,236.56 617.48,236.96 620.75,237.38 624.02,237.81 627.29,238.26 630.56,238.73 633.83,239.20 637.10,239.70 640.37,240.21 643.64,240.73 646.91,241.27 650.18,241.82 653.45,242.38 656.72,242.96 659.99,243.56 663.26,244.16 666.53,244.78 669.80,245.41" fill="none" stroke="#F8766D" stroke-width="1.0"/><polyline points="408.20,223.97 411.47,223.74 414.74,223.52 418.01,223.30 421.28,223.08 424.55,222.86 427.82,222.64 431.09,222.42 434.36,222.21 437.63,222.00 440.90,221.79 444.17,221.58 447.44,221.38 450.71,221.17 453.98,220.97 457.25,220.77 460.52,220.57 463.79,220.38 467.06,220.18 470.33,219.99 473.60,219.80 476.87,219.61 480.14,219.42 483.41,219.24 486.68,219.05 489.95,218.87 493.22,218.69 496.49,218.51 499.76,218.34 503.03,218.16 506.30,217.99 509.57,217.82 512.84,217.65 516.11,217.48 519.38,217.32 522.65,217.15 525.92,216.99 529.19,216.83 532.46,216.67 535.73,216.52 539.00,216.36 542.27,216.21 545.54,216.06 548.81,215.91 552.08,215.76 555.35,215.62 558.62,215.47 561.89,215.33 565.16,215.19 568.43,215.05 571.70,214.91 574.97,214.78 578.24,214.64 581.51,214.51 584.78,214.38 588.05,214.25 591.32,214.13 594.59,214.00 597.86,213.88 601.13,213.76 604.40,213.64 607.67,213.52 610.94,213.40 614.21,213.29 617.48,213.18 620.75,213.06 624.02,212.95 627.29,212.85 630.56,212.74 633.83,212.64 637.10,212.53 640.37,212.43 643.64,212.33 646.91,212.23 650.18,212.14 653.45,212.04 656.72,211.95 659.99,211.86 663.26,211.77 666.53,211.68 669.80,211.60" fill="none" stroke="#00BA38" stroke-width="1.0"/><polyline points="408.20,245.13 411.47,244.92 414.74,244.72 418.01,244.52 421.28,244.32 424.55,244.12 427.82,243.93 431.09,243.73 434.36,243.54 437.63,243.35 440.90,243.16 444.17,242.98 447.44,242.79 450.71,242.62 453.98,242.44 457.25,242.26 460.52,242.09 463.79,241.93 467.06,241.76 470.33,241.60 473.60,241.44 476.87,241.29 480.14,241.14 483.41,240.99 486.68,240.85 489.95,240.71 493.22,240.58 496.49,240.45 499.76,240.32 503.03,240.20 506.30,240.09 509.57,239.98 512.84,239.87 516.11,239.77 519.38,239.67 522.65,239.58 525.92,239.50 529.19,239.42 532.46,239.34 535.73,239.27 539.00,239.21 542.27,239.15 545.54,239.10 548.81,239.06 552.08,239.02 555.35,238.99 558.62,238.96 561.89,238.94 565.16,238.93 568.43,238.93 571.70,238.93 574.97,238.94 578.24,238.96 581.51,238.98 584.78,239.01 588.05,239.05 591.32,239.10 594.59,239.15 597.86,239.21 601.13,239.28 604.40,239.36 607.67,239.45 610.94,239.55 614.21,239.65 617.48,239.76 620.75,239.88 624.02,240.01 627.29,240.15 630.56,240.30 633.83,240.46 637.10,240.63 640.37,240.80 643.64,240.99 646.91,241.19 650.18,241.39 653.45,241.61 656.72,241.83 659.99,242.07 663.26,242.31 666.53,242.57 669.80,242.84" fill="none" stroke="#619CFF" stroke-width="1.0"/>
<circle cx="495.40" cy="15.40" r="1.35" fill="#00BA38"/><circle cx="489.30" cy="63.84" r="1.35" fill="#00BA38"/><circle cx="516.10" cy="63.84" r="1.35" fill="#00BA38"/><circle cx="425.50" cy="112.28" r="1.35" fill="#619CFF"/><circle cx="428.60" cy="112.28" r="1.35" fill="#00BA38"/><circle cx="440.90" cy="112.28" r="1.35" fill="#00BA38"/><circle cx="453.70" cy="112.28" r="1.35" fill="#00BA38"/><circle cx="458.70" cy="112.28" r="1.35" fill="#619CFF"/><circle cx="474.80" cy="112.28" r="1.35" fill="#00BA38"/><circle cx="489.30" cy="112.28" r="1.35" fill="#00BA38"/><circle cx="495.40" cy="112.28" r="1.35" fill="#00BA38"/><circle cx="528.30" cy="112.28" r="1.35" fill="#F8766D"/><circle cx="563.50" cy="112.28" r="1.35" fill="#F8766D"/><circle cx="669.80" cy="112.28" r="1.35" fill="#619CFF"/><circle cx="408.20" cy="160.72" r="1.35" fill="#619CFF"/><circle cx="417.40" cy="160.72" r="1.35" fill="#619CFF"/><circle cx="425.50" cy="160.72" r="1.35" fill="#F8766D"/><circle cx="427.60" cy="160.72" r="1.35" fill="#00BA38"/><circle cx="428.60" cy="160.72" r="1.35" fill="#00BA38"/><circle cx="430.20" cy="160.72" r="1.35" fill="#619CFF"/><circle cx="439.40" cy="160.72" r="1.35" fill="#F8766D"/><circle cx="440.90" cy="160.72" r="1.35" fill="#00BA38"/><circle cx="441.90" cy="160.72" r="1.35" fill="#00BA38"/><circle cx="453.70" cy="160.72" r="1.35" fill="#00BA38"/><circle cx="458.70" cy="160.72" r="1.35" fill="#00BA38"/><circle cx="474.80" cy="160.72" r="1.35" fill="#F8766D"/><circle cx="489.30" cy="160.72" r="1.35" fill="#619CFF"/><circle cx="495.40" cy="160.72" r="1.35" fill="#F8766D"/><circle cx="516.10" cy="160.72" r="1.35" fill="#F8766D"/><circle cx="519.10" cy="160.72" r="1.35" fill="#F8766D"/><circle cx="528.30" cy="160.72" r="1.35" fill="#F8766D"/><circle cx="563.50" cy="160.72" r="1.35" fill="#619CFF"/><circle cx="617.80" cy="160.72" r="1.35" fill="#00BA38"/><circle cx="669.80" cy="160.72" r="1.35" fill="#F8766D"/><circle cx="408.20" cy="209.16" r="1.35" fill="#00BA38"/><circle cx="417.40" cy="209.16" r="1.35" fill="#F8766D"/><circle cx="425.50" cy="209.16" r="1.35" fill="#619CFF"/><circle cx="427.60" cy="209.16" r="1.35" fill="#619CFF"/><circle cx="429.20" cy="209.16" r="1.35" fill="#F8766D"/><circle cx="430.20" cy="209.16" r="1.35" fill="#619CFF"/><circle cx="439.40" cy="209.16" r="1.35" fill="#619CFF"/><circle cx="440.90" cy="209.16" r="1.35" fill="#F8766D"/><circle cx="453.70" cy="209.16" r="1.35" fill="#F8766D"/><circle cx="458.70" cy="209.16" r="1.35" fill="#619CFF"/><circle cx="474.80" cy="209.16" r="1.35" fill="#00BA38"/><circle cx="489.30" cy="209.16" r="1.35" fill="#00BA38"/><circle cx="495.40" cy="209.16" r="1.35" fill="#619CFF"/><circle cx="516.10" cy="209.16" r="1.35" fill="#F8766D"/><circle cx="519.10" cy="209.16" r="1.35" fill="#00BA38"/><circle cx="528.30" cy="209.16" r="1.35" fill="#619CFF"/><circle cx="563.50" cy="209.16" r="1.35" fill="#619CFF"/><circle cx="617.80" cy="209.16" r="1.35" fill="#619CFF"/><circle cx="669.80" cy="209.16" r="1.35" fill="#619CFF"/><circle cx="408.20" cy="257.60" r="1.35" fill="#619CFF"/><circle cx="417.40" cy="257.60" r="1.35" fill="#F8766D"/><circle cx="425.50" cy="257.60" r="1.35" fill="#619CFF"/><circle cx="427.60" cy="257.60" r="1.35" fill="#619CFF"/><circle cx="429.20" cy="257.60" r="1.35" fill="#619CFF"/><circle cx="430.20" cy="257.60" r="1.35" fill="#619CFF"/><circle cx="439.40" cy="257.60" r="1.35" fill="#619CFF"/><circle cx="440.90" cy="257.60" r="1.35" fill="#619CFF"/><circle cx="441.90" cy="257.60" r="1.35" fill="#619CFF"/><circle cx="453.70" cy="257.60" r="1.35" fill="#619CFF"/><circle cx="458.70" cy="257.60" r="1.35" fill="#F8766D"/><circle cx="474.80" cy="257.60" r="1.35" fill="#619CFF"/><circle cx="489.30" cy="257.60" r="1.35" fill="#F8766D"/><circle cx="495.40" cy="257.60" r="1.35" fill="#619CFF"/><circle cx="516.10" cy="257.60" r="1.35" fill="#F8766D"/><circle cx="519.10" cy="257.60" r="1.35" fill="#00BA38"/><circle cx="528.30" cy="257.60" r="1.35" fill="#619CFF"/><circle cx="563.50" cy="257.60" r="1.35" fill="#619CFF"/><circle cx="617.80" cy="257.60" r="1.35" fill="#F8766D"/><circle cx="669.80" cy="257.60" r="1.35" fill="#619CFF"/>
<line x1="394.5" y1="3.6" x2="394.5" y2="270" stroke="#4a4a4a" stroke-width="1.2"/><line x1="394" y1="269.5" x2="682.6" y2="269.5" stroke="#3a3a3a" stroke-width="1.15"/><line x1="391.7" y1="257.60" x2="394" y2="257.60" stroke="#555" stroke-width="1"/><text x="390.7" y="263.00" class="t" text-anchor="end" font-size="12.1" fill="#1a1a1a">0</text><line x1="391.7" y1="209.16" x2="394" y2="209.16" stroke="#555" stroke-width="1"/><text x="390.7" y="214.56" class="t" text-anchor="end" font-size="12.1" fill="#1a1a1a">1</text><line x1="391.7" y1="160.72" x2="394" y2="160.72" stroke="#555" stroke-width="1"/><text x="390.7" y="166.12" class="t" text-anchor="end" font-size="12.1" fill="#1a1a1a">2</text><line x1="391.7" y1="112.28" x2="394" y2="112.28" stroke="#555" stroke-width="1"/><text x="390.7" y="117.68" class="t" text-anchor="end" font-size="12.1" fill="#1a1a1a">3</text><line x1="391.7" y1="63.84" x2="394" y2="63.84" stroke="#555" stroke-width="1"/><text x="390.7" y="69.24" class="t" text-anchor="end" font-size="12.1" fill="#1a1a1a">4</text><line x1="391.7" y1="15.40" x2="394" y2="15.40" stroke="#555" stroke-width="1"/><text x="390.7" y="20.80" class="t" text-anchor="end" font-size="12.1" fill="#1a1a1a">5</text><line x1="455.40" y1="269.5" x2="455.40" y2="271.8" stroke="#555" stroke-width="1"/><text x="455.40" y="282.6" class="t" text-anchor="middle" font-size="12" fill="#1a1a1a">200</text><line x1="521.94" y1="269.5" x2="521.94" y2="271.8" stroke="#555" stroke-width="1"/><text x="521.94" y="282.6" class="t" text-anchor="middle" font-size="12" fill="#1a1a1a">400</text><line x1="588.48" y1="269.5" x2="588.48" y2="271.8" stroke="#555" stroke-width="1"/><text x="588.48" y="282.6" class="t" text-anchor="middle" font-size="12" fill="#1a1a1a">600</text><line x1="655.02" y1="269.5" x2="655.02" y2="271.8" stroke="#555" stroke-width="1"/><text x="655.02" y="282.6" class="t" text-anchor="middle" font-size="12" fill="#1a1a1a">800</text>
<text x="538.50" y="39.60" class="u" font-size="12.8" fill="#1a1a1a">Group Composition</text><rect x="538.10" y="46.30" width="13.5" height="39" fill="#D6D6D6"/><line x1="539.30" y1="52.70" x2="550.30" y2="52.70" stroke="#F8766D" stroke-width="1.1"/><circle cx="544.80" cy="52.70" r="1.3" fill="#F8766D"/><text x="557.80" y="57.80" class="u" font-size="12.6" fill="#1a1a1a">Group without helpers</text><line x1="539.30" y1="65.70" x2="550.30" y2="65.70" stroke="#00BA38" stroke-width="1.1"/><circle cx="544.80" cy="65.70" r="1.3" fill="#00BA38"/><text x="557.80" y="70.80" class="u" font-size="12.6" fill="#1a1a1a">Group with helpers</text><line x1="539.30" y1="78.70" x2="550.30" y2="78.70" stroke="#619CFF" stroke-width="1.1"/><circle cx="544.80" cy="78.70" r="1.3" fill="#619CFF"/><text x="557.80" y="83.80" class="u" font-size="12.6" fill="#1a1a1a">Pair</text>
<text x="354.0" y="15.9" font-size="18.5" font-weight="bold" fill="#000">(b)</text>
<text transform="translate(379.4,136.6) rotate(-90)" class="u" text-anchor="middle" font-size="15.5" fill="#1a1a1a">Number of offspring</text>
<text x="538.7" y="298.9" class="u" text-anchor="middle" font-size="15.25" fill="#1a1a1a">Rainfall (mm)</text>
</svg>
</body></html>
